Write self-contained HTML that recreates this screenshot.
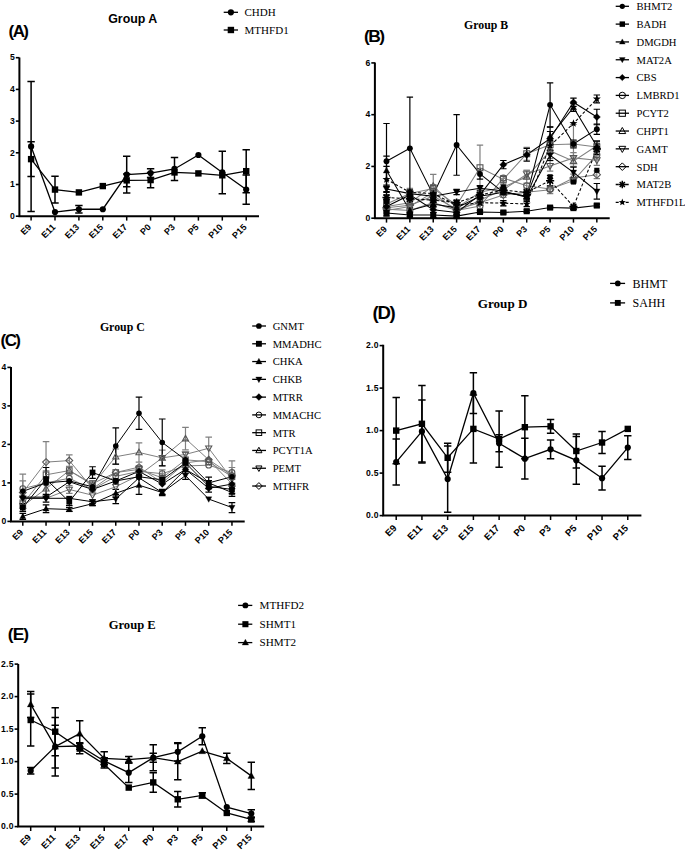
<!DOCTYPE html>
<html><head><meta charset="utf-8"><title>Figure</title>
<style>
html,body{margin:0;padding:0;background:#fff;}
body{width:685px;height:853px;overflow:hidden;font-family:"Liberation Sans", sans-serif;}
svg{display:block;}
</style></head>
<body>
<svg width="685" height="853" viewBox="0 0 685 853">
<rect width="685" height="853" fill="#fff"/>
<path d="M19.4 57.6V216.2H259" stroke="#000" stroke-width="2" fill="none"/>
<path d="M15.8 216.2H19.4" stroke="#000" stroke-width="1.6"/>
<text x="14.8" y="218.9" text-anchor="end" font-family="'Liberation Sans', sans-serif" font-weight="bold" font-size="8.6" letter-spacing="0">0</text>
<path d="M15.8 184.5H19.4" stroke="#000" stroke-width="1.6"/>
<text x="14.8" y="187.2" text-anchor="end" font-family="'Liberation Sans', sans-serif" font-weight="bold" font-size="8.6" letter-spacing="0">1</text>
<path d="M15.8 152.8H19.4" stroke="#000" stroke-width="1.6"/>
<text x="14.8" y="155.5" text-anchor="end" font-family="'Liberation Sans', sans-serif" font-weight="bold" font-size="8.6" letter-spacing="0">2</text>
<path d="M15.8 121.1H19.4" stroke="#000" stroke-width="1.6"/>
<text x="14.8" y="123.8" text-anchor="end" font-family="'Liberation Sans', sans-serif" font-weight="bold" font-size="8.6" letter-spacing="0">3</text>
<path d="M15.8 89.4H19.4" stroke="#000" stroke-width="1.6"/>
<text x="14.8" y="92.1" text-anchor="end" font-family="'Liberation Sans', sans-serif" font-weight="bold" font-size="8.6" letter-spacing="0">4</text>
<path d="M15.8 57.7H19.4" stroke="#000" stroke-width="1.6"/>
<text x="14.8" y="60.4" text-anchor="end" font-family="'Liberation Sans', sans-serif" font-weight="bold" font-size="8.6" letter-spacing="0">5</text>
<path d="M31.1 216.2V220.6" stroke="#000" stroke-width="1.5"/>
<text x="32.1" y="227.8" text-anchor="end" transform="rotate(-45 32.1 227.8)" font-family="'Liberation Sans', sans-serif" font-weight="bold" font-size="9.0">E9</text>
<path d="M55 216.2V220.6" stroke="#000" stroke-width="1.5"/>
<text x="56" y="227.8" text-anchor="end" transform="rotate(-45 56 227.8)" font-family="'Liberation Sans', sans-serif" font-weight="bold" font-size="9.0">E11</text>
<path d="M78.9 216.2V220.6" stroke="#000" stroke-width="1.5"/>
<text x="79.9" y="227.8" text-anchor="end" transform="rotate(-45 79.9 227.8)" font-family="'Liberation Sans', sans-serif" font-weight="bold" font-size="9.0">E13</text>
<path d="M102.8 216.2V220.6" stroke="#000" stroke-width="1.5"/>
<text x="103.8" y="227.8" text-anchor="end" transform="rotate(-45 103.8 227.8)" font-family="'Liberation Sans', sans-serif" font-weight="bold" font-size="9.0">E15</text>
<path d="M126.7 216.2V220.6" stroke="#000" stroke-width="1.5"/>
<text x="127.7" y="227.8" text-anchor="end" transform="rotate(-45 127.7 227.8)" font-family="'Liberation Sans', sans-serif" font-weight="bold" font-size="9.0">E17</text>
<path d="M150.6 216.2V220.6" stroke="#000" stroke-width="1.5"/>
<text x="151.6" y="227.8" text-anchor="end" transform="rotate(-45 151.6 227.8)" font-family="'Liberation Sans', sans-serif" font-weight="bold" font-size="9.0">P0</text>
<path d="M174.5 216.2V220.6" stroke="#000" stroke-width="1.5"/>
<text x="175.5" y="227.8" text-anchor="end" transform="rotate(-45 175.5 227.8)" font-family="'Liberation Sans', sans-serif" font-weight="bold" font-size="9.0">P3</text>
<path d="M198.4 216.2V220.6" stroke="#000" stroke-width="1.5"/>
<text x="199.4" y="227.8" text-anchor="end" transform="rotate(-45 199.4 227.8)" font-family="'Liberation Sans', sans-serif" font-weight="bold" font-size="9.0">P5</text>
<path d="M222.3 216.2V220.6" stroke="#000" stroke-width="1.5"/>
<text x="223.3" y="227.8" text-anchor="end" transform="rotate(-45 223.3 227.8)" font-family="'Liberation Sans', sans-serif" font-weight="bold" font-size="9.0">P10</text>
<path d="M246.2 216.2V220.6" stroke="#000" stroke-width="1.5"/>
<text x="247.2" y="227.8" text-anchor="end" transform="rotate(-45 247.2 227.8)" font-family="'Liberation Sans', sans-serif" font-weight="bold" font-size="9.0">P15</text>
<path d="M31.1 81.47V211.44M27.4 81.47H34.8M27.4 211.44H34.8" stroke="#000" stroke-width="1.5" fill="none"/>
<path d="M78.9 205.42V213.03M75.2 205.42H82.6M75.2 213.03H82.6" stroke="#000" stroke-width="1.5" fill="none"/>
<path d="M126.7 156.29V193.06M123 156.29H130.4M123 193.06H130.4" stroke="#000" stroke-width="1.5" fill="none"/>
<path d="M150.6 168.65V177.53M146.9 168.65H154.3M146.9 177.53H154.3" stroke="#000" stroke-width="1.5" fill="none"/>
<path d="M174.5 157.55V180.38M170.8 157.55H178.2M170.8 180.38H178.2" stroke="#000" stroke-width="1.5" fill="none"/>
<path d="M222.3 151.22V193.69M218.6 151.22H226M218.6 193.69H226" stroke="#000" stroke-width="1.5" fill="none"/>
<path d="M246.2 174.99V204.15M242.5 174.99H249.9M242.5 204.15H249.9" stroke="#000" stroke-width="1.5" fill="none"/>
<path d="M31.1 141.7V176.57M27.4 141.7H34.8M27.4 176.57H34.8" stroke="#000" stroke-width="1.5" fill="none"/>
<path d="M55 176.26V202.89M51.3 176.26H58.7M51.3 202.89H58.7" stroke="#000" stroke-width="1.5" fill="none"/>
<path d="M126.7 174.04V186.72M123 174.04H130.4M123 186.72H130.4" stroke="#000" stroke-width="1.5" fill="none"/>
<path d="M150.6 172.45V187.67M146.9 172.45H154.3M146.9 187.67H154.3" stroke="#000" stroke-width="1.5" fill="none"/>
<path d="M246.2 149.63V192.74M242.5 149.63H249.9M242.5 192.74H249.9" stroke="#000" stroke-width="1.5" fill="none"/>
<polyline points="31.1,146.46 55,212.08 78.9,209.23 102.8,209.23 126.7,174.67 150.6,173.09 174.5,168.97 198.4,155.02 222.3,172.45 246.2,189.57" fill="none" stroke="#000" stroke-width="1.3"/>
<polyline points="31.1,159.14 55,189.57 78.9,192.42 102.8,186.08 126.7,180.38 150.6,180.06 174.5,172.45 198.4,173.4 222.3,175.31 246.2,171.19" fill="none" stroke="#000" stroke-width="1.3"/>
<circle cx="31.1" cy="146.46" r="3.1" fill="#000" stroke="#000" stroke-width="0"/>
<circle cx="55" cy="212.08" r="3.1" fill="#000" stroke="#000" stroke-width="0"/>
<circle cx="78.9" cy="209.23" r="3.1" fill="#000" stroke="#000" stroke-width="0"/>
<circle cx="102.8" cy="209.23" r="3.1" fill="#000" stroke="#000" stroke-width="0"/>
<circle cx="126.7" cy="174.67" r="3.1" fill="#000" stroke="#000" stroke-width="0"/>
<circle cx="150.6" cy="173.09" r="3.1" fill="#000" stroke="#000" stroke-width="0"/>
<circle cx="174.5" cy="168.97" r="3.1" fill="#000" stroke="#000" stroke-width="0"/>
<circle cx="198.4" cy="155.02" r="3.1" fill="#000" stroke="#000" stroke-width="0"/>
<circle cx="222.3" cy="172.45" r="3.1" fill="#000" stroke="#000" stroke-width="0"/>
<circle cx="246.2" cy="189.57" r="3.1" fill="#000" stroke="#000" stroke-width="0"/>
<rect x="27.9" y="155.94" width="6.4" height="6.4" fill="#000" stroke="#000" stroke-width="0"/>
<rect x="51.8" y="186.37" width="6.4" height="6.4" fill="#000" stroke="#000" stroke-width="0"/>
<rect x="75.7" y="189.22" width="6.4" height="6.4" fill="#000" stroke="#000" stroke-width="0"/>
<rect x="99.6" y="182.88" width="6.4" height="6.4" fill="#000" stroke="#000" stroke-width="0"/>
<rect x="123.5" y="177.18" width="6.4" height="6.4" fill="#000" stroke="#000" stroke-width="0"/>
<rect x="147.4" y="176.86" width="6.4" height="6.4" fill="#000" stroke="#000" stroke-width="0"/>
<rect x="171.3" y="169.25" width="6.4" height="6.4" fill="#000" stroke="#000" stroke-width="0"/>
<rect x="195.2" y="170.2" width="6.4" height="6.4" fill="#000" stroke="#000" stroke-width="0"/>
<rect x="219.1" y="172.11" width="6.4" height="6.4" fill="#000" stroke="#000" stroke-width="0"/>
<rect x="243" y="167.99" width="6.4" height="6.4" fill="#000" stroke="#000" stroke-width="0"/>
<text x="108.2" y="23" font-family="'Liberation Sans', sans-serif" font-weight="bold" font-size="12.4">Group A</text>
<text x="8.6" y="37.4" font-family="'Liberation Sans', sans-serif" font-weight="bold" font-size="17" letter-spacing="-1.6">(A)</text>
<path d="M223.7 12.3H238" stroke="#000" stroke-width="1.3"/>
<circle cx="230.9" cy="12.3" r="3.1" fill="#000" stroke="#000" stroke-width="0"/>
<text x="244.5" y="16.2" font-family="'Liberation Serif', serif" font-size="11.05">CHDH</text>
<path d="M223.7 30H238" stroke="#000" stroke-width="1.3"/>
<rect x="227.7" y="26.8" width="6.4" height="6.4" fill="#000" stroke="#000" stroke-width="0"/>
<text x="244.5" y="33.9" font-family="'Liberation Serif', serif" font-size="11.05">MTHFD1</text>
<path d="M374.9 62.6V218.2H609.7" stroke="#000" stroke-width="2" fill="none"/>
<path d="M371.3 218.2H374.9" stroke="#000" stroke-width="1.6"/>
<text x="370.3" y="220.9" text-anchor="end" font-family="'Liberation Sans', sans-serif" font-weight="bold" font-size="8.6" letter-spacing="0">0</text>
<path d="M371.3 166.44H374.9" stroke="#000" stroke-width="1.6"/>
<text x="370.3" y="169.14" text-anchor="end" font-family="'Liberation Sans', sans-serif" font-weight="bold" font-size="8.6" letter-spacing="0">2</text>
<path d="M371.3 114.68H374.9" stroke="#000" stroke-width="1.6"/>
<text x="370.3" y="117.38" text-anchor="end" font-family="'Liberation Sans', sans-serif" font-weight="bold" font-size="8.6" letter-spacing="0">4</text>
<path d="M371.3 62.92H374.9" stroke="#000" stroke-width="1.6"/>
<text x="370.3" y="65.62" text-anchor="end" font-family="'Liberation Sans', sans-serif" font-weight="bold" font-size="8.6" letter-spacing="0">6</text>
<path d="M386.5 218.2V222.6" stroke="#000" stroke-width="1.5"/>
<text x="387.5" y="229.8" text-anchor="end" transform="rotate(-45 387.5 229.8)" font-family="'Liberation Sans', sans-serif" font-weight="bold" font-size="9.0">E9</text>
<path d="M409.87 218.2V222.6" stroke="#000" stroke-width="1.5"/>
<text x="410.87" y="229.8" text-anchor="end" transform="rotate(-45 410.87 229.8)" font-family="'Liberation Sans', sans-serif" font-weight="bold" font-size="9.0">E11</text>
<path d="M433.24 218.2V222.6" stroke="#000" stroke-width="1.5"/>
<text x="434.24" y="229.8" text-anchor="end" transform="rotate(-45 434.24 229.8)" font-family="'Liberation Sans', sans-serif" font-weight="bold" font-size="9.0">E13</text>
<path d="M456.61 218.2V222.6" stroke="#000" stroke-width="1.5"/>
<text x="457.61" y="229.8" text-anchor="end" transform="rotate(-45 457.61 229.8)" font-family="'Liberation Sans', sans-serif" font-weight="bold" font-size="9.0">E15</text>
<path d="M479.98 218.2V222.6" stroke="#000" stroke-width="1.5"/>
<text x="480.98" y="229.8" text-anchor="end" transform="rotate(-45 480.98 229.8)" font-family="'Liberation Sans', sans-serif" font-weight="bold" font-size="9.0">E17</text>
<path d="M503.35 218.2V222.6" stroke="#000" stroke-width="1.5"/>
<text x="504.35" y="229.8" text-anchor="end" transform="rotate(-45 504.35 229.8)" font-family="'Liberation Sans', sans-serif" font-weight="bold" font-size="9.0">P0</text>
<path d="M526.72 218.2V222.6" stroke="#000" stroke-width="1.5"/>
<text x="527.72" y="229.8" text-anchor="end" transform="rotate(-45 527.72 229.8)" font-family="'Liberation Sans', sans-serif" font-weight="bold" font-size="9.0">P3</text>
<path d="M550.09 218.2V222.6" stroke="#000" stroke-width="1.5"/>
<text x="551.09" y="229.8" text-anchor="end" transform="rotate(-45 551.09 229.8)" font-family="'Liberation Sans', sans-serif" font-weight="bold" font-size="9.0">P5</text>
<path d="M573.46 218.2V222.6" stroke="#000" stroke-width="1.5"/>
<text x="574.46" y="229.8" text-anchor="end" transform="rotate(-45 574.46 229.8)" font-family="'Liberation Sans', sans-serif" font-weight="bold" font-size="9.0">P10</text>
<path d="M596.83 218.2V222.6" stroke="#000" stroke-width="1.5"/>
<text x="597.83" y="229.8" text-anchor="end" transform="rotate(-45 597.83 229.8)" font-family="'Liberation Sans', sans-serif" font-weight="bold" font-size="9.0">P15</text>
<path d="M386.5 205.26V213.02M383.3 205.26H389.7M383.3 213.02H389.7" stroke="#808080" stroke-width="1.2" fill="none"/>
<path d="M409.87 207.85V213.02M406.67 207.85H413.07M406.67 213.02H413.07" stroke="#808080" stroke-width="1.2" fill="none"/>
<path d="M433.24 200.08V205.26M430.04 200.08H436.44M430.04 205.26H436.44" stroke="#808080" stroke-width="1.2" fill="none"/>
<path d="M456.61 207.85V213.02M453.41 207.85H459.81M453.41 213.02H459.81" stroke="#808080" stroke-width="1.2" fill="none"/>
<path d="M479.98 203.45V208.62M476.78 203.45H483.18M476.78 208.62H483.18" stroke="#808080" stroke-width="1.2" fill="none"/>
<path d="M503.35 175.5V180.67M500.15 175.5H506.55M500.15 180.67H506.55" stroke="#808080" stroke-width="1.2" fill="none"/>
<path d="M526.72 183.26V188.44M523.52 183.26H529.92M523.52 188.44H529.92" stroke="#808080" stroke-width="1.2" fill="none"/>
<path d="M550.09 186.37V191.54M546.89 186.37H553.29M546.89 191.54H553.29" stroke="#808080" stroke-width="1.2" fill="none"/>
<path d="M573.46 178.09V183.26M570.26 178.09H576.66M570.26 183.26H576.66" stroke="#808080" stroke-width="1.2" fill="none"/>
<path d="M596.83 149.62V159.97M593.63 149.62H600.03M593.63 159.97H600.03" stroke="#808080" stroke-width="1.2" fill="none"/>
<path d="M386.5 198.79V209.14M383.3 198.79H389.7M383.3 209.14H389.7" stroke="#808080" stroke-width="1.2" fill="none"/>
<path d="M409.87 188.44V198.79M406.67 188.44H413.07M406.67 198.79H413.07" stroke="#808080" stroke-width="1.2" fill="none"/>
<path d="M433.24 184.56V192.32M430.04 184.56H436.44M430.04 192.32H436.44" stroke="#808080" stroke-width="1.2" fill="none"/>
<path d="M456.61 201.38V209.14M453.41 201.38H459.81M453.41 209.14H459.81" stroke="#808080" stroke-width="1.2" fill="none"/>
<path d="M479.98 145.22V190.25M476.78 145.22H483.18M476.78 190.25H483.18" stroke="#808080" stroke-width="1.2" fill="none"/>
<path d="M503.35 175.5V183.26M500.15 175.5H506.55M500.15 183.26H506.55" stroke="#808080" stroke-width="1.2" fill="none"/>
<path d="M526.72 147.29V160.23M523.52 147.29H529.92M523.52 160.23H529.92" stroke="#808080" stroke-width="1.2" fill="none"/>
<path d="M550.09 136.94V152.46M546.89 136.94H553.29M546.89 152.46H553.29" stroke="#808080" stroke-width="1.2" fill="none"/>
<path d="M573.46 124.51V163.33M570.26 124.51H576.66M570.26 163.33H576.66" stroke="#808080" stroke-width="1.2" fill="none"/>
<path d="M596.83 141.85V152.21M593.63 141.85H600.03M593.63 152.21H600.03" stroke="#808080" stroke-width="1.2" fill="none"/>
<path d="M386.5 203.97V209.14M383.3 203.97H389.7M383.3 209.14H389.7" stroke="#808080" stroke-width="1.2" fill="none"/>
<path d="M409.87 200.08V205.26M406.67 200.08H413.07M406.67 205.26H413.07" stroke="#808080" stroke-width="1.2" fill="none"/>
<path d="M433.24 174.46V197.75M430.04 174.46H436.44M430.04 197.75H436.44" stroke="#808080" stroke-width="1.2" fill="none"/>
<path d="M456.61 205.26V210.44M453.41 205.26H459.81M453.41 210.44H459.81" stroke="#808080" stroke-width="1.2" fill="none"/>
<path d="M479.98 189.73V194.91M476.78 189.73H483.18M476.78 194.91H483.18" stroke="#808080" stroke-width="1.2" fill="none"/>
<path d="M503.35 184.56V189.73M500.15 184.56H506.55M500.15 189.73H506.55" stroke="#808080" stroke-width="1.2" fill="none"/>
<path d="M526.72 170.32V183.26M523.52 170.32H529.92M523.52 183.26H529.92" stroke="#808080" stroke-width="1.2" fill="none"/>
<path d="M550.09 143.15V158.68M546.89 143.15H553.29M546.89 158.68H553.29" stroke="#808080" stroke-width="1.2" fill="none"/>
<path d="M573.46 156.09V166.44M570.26 156.09H576.66M570.26 166.44H576.66" stroke="#808080" stroke-width="1.2" fill="none"/>
<path d="M596.83 140.56V150.91M593.63 140.56H600.03M593.63 150.91H600.03" stroke="#808080" stroke-width="1.2" fill="none"/>
<path d="M386.5 207.85V213.02M383.3 207.85H389.7M383.3 213.02H389.7" stroke="#808080" stroke-width="1.2" fill="none"/>
<path d="M409.87 203.97V209.14M406.67 203.97H413.07M406.67 209.14H413.07" stroke="#808080" stroke-width="1.2" fill="none"/>
<path d="M433.24 189.73V194.91M430.04 189.73H436.44M430.04 194.91H436.44" stroke="#808080" stroke-width="1.2" fill="none"/>
<path d="M456.61 209.14V214.32M453.41 209.14H459.81M453.41 214.32H459.81" stroke="#808080" stroke-width="1.2" fill="none"/>
<path d="M479.98 197.5V202.67M476.78 197.5H483.18M476.78 202.67H483.18" stroke="#808080" stroke-width="1.2" fill="none"/>
<path d="M503.35 187.14V192.32M500.15 187.14H506.55M500.15 192.32H506.55" stroke="#808080" stroke-width="1.2" fill="none"/>
<path d="M526.72 170.32V178.09M523.52 170.32H529.92M523.52 178.09H529.92" stroke="#808080" stroke-width="1.2" fill="none"/>
<path d="M550.09 160.75V171.1M546.89 160.75H553.29M546.89 171.1H553.29" stroke="#808080" stroke-width="1.2" fill="none"/>
<path d="M573.46 152.72V163.08M570.26 152.72H576.66M570.26 163.08H576.66" stroke="#808080" stroke-width="1.2" fill="none"/>
<path d="M596.83 155.05V165.4M593.63 155.05H600.03M593.63 165.4H600.03" stroke="#808080" stroke-width="1.2" fill="none"/>
<path d="M386.5 205.26V210.44M383.3 205.26H389.7M383.3 210.44H389.7" stroke="#808080" stroke-width="1.2" fill="none"/>
<path d="M409.87 202.67V207.85M406.67 202.67H413.07M406.67 207.85H413.07" stroke="#808080" stroke-width="1.2" fill="none"/>
<path d="M433.24 193.61V198.79M430.04 193.61H436.44M430.04 198.79H436.44" stroke="#808080" stroke-width="1.2" fill="none"/>
<path d="M456.61 206.55V211.73M453.41 206.55H459.81M453.41 211.73H459.81" stroke="#808080" stroke-width="1.2" fill="none"/>
<path d="M479.98 200.08V205.26M476.78 200.08H483.18M476.78 205.26H483.18" stroke="#808080" stroke-width="1.2" fill="none"/>
<path d="M503.35 192.32V197.5M500.15 192.32H506.55M500.15 197.5H506.55" stroke="#808080" stroke-width="1.2" fill="none"/>
<path d="M526.72 189.73V194.91M523.52 189.73H529.92M523.52 194.91H529.92" stroke="#808080" stroke-width="1.2" fill="none"/>
<path d="M550.09 185.85V193.61M546.89 185.85H553.29M546.89 193.61H553.29" stroke="#808080" stroke-width="1.2" fill="none"/>
<path d="M573.46 174.2V181.97M570.26 174.2H576.66M570.26 181.97H576.66" stroke="#808080" stroke-width="1.2" fill="none"/>
<path d="M596.83 170.84V178.6M593.63 170.84H600.03M593.63 178.6H600.03" stroke="#808080" stroke-width="1.2" fill="none"/>
<path d="M386.5 194.91V200.08M383.3 194.91H389.7M383.3 200.08H389.7" stroke="#000" stroke-width="1.2" fill="none"/>
<path d="M409.87 196.2V201.38M406.67 196.2H413.07M406.67 201.38H413.07" stroke="#000" stroke-width="1.2" fill="none"/>
<path d="M433.24 197.5V202.67M430.04 197.5H436.44M430.04 202.67H436.44" stroke="#000" stroke-width="1.2" fill="none"/>
<path d="M456.61 200.08V205.26M453.41 200.08H459.81M453.41 205.26H459.81" stroke="#000" stroke-width="1.2" fill="none"/>
<path d="M479.98 192.32V197.5M476.78 192.32H483.18M476.78 197.5H483.18" stroke="#000" stroke-width="1.2" fill="none"/>
<path d="M503.35 187.66V192.84M500.15 187.66H506.55M500.15 192.84H506.55" stroke="#000" stroke-width="1.2" fill="none"/>
<path d="M526.72 189.73V194.91M523.52 189.73H529.92M523.52 194.91H529.92" stroke="#000" stroke-width="1.2" fill="none"/>
<path d="M550.09 175.5V185.85M546.89 175.5H553.29M546.89 185.85H553.29" stroke="#000" stroke-width="1.2" fill="none"/>
<path d="M596.83 143.92V154.28M593.63 143.92H600.03M593.63 154.28H600.03" stroke="#000" stroke-width="1.2" fill="none"/>
<path d="M386.5 166.44V192.32M383.3 166.44H389.7M383.3 192.32H389.7" stroke="#000" stroke-width="1.2" fill="none"/>
<path d="M409.87 189.73V194.91M406.67 189.73H413.07M406.67 194.91H413.07" stroke="#000" stroke-width="1.2" fill="none"/>
<path d="M433.24 191.03V196.2M430.04 191.03H436.44M430.04 196.2H436.44" stroke="#000" stroke-width="1.2" fill="none"/>
<path d="M456.61 202.67V207.85M453.41 202.67H459.81M453.41 207.85H459.81" stroke="#000" stroke-width="1.2" fill="none"/>
<path d="M479.98 200.08V205.26M476.78 200.08H483.18M476.78 205.26H483.18" stroke="#000" stroke-width="1.2" fill="none"/>
<path d="M503.35 200.6V205.78M500.15 200.6H506.55M500.15 205.78H506.55" stroke="#000" stroke-width="1.2" fill="none"/>
<path d="M526.72 201.38V206.55M523.52 201.38H529.92M523.52 206.55H529.92" stroke="#000" stroke-width="1.2" fill="none"/>
<path d="M550.09 140.56V150.91M546.89 140.56H553.29M546.89 150.91H553.29" stroke="#000" stroke-width="1.2" fill="none"/>
<path d="M596.83 95.01V102.78M593.63 95.01H600.03M593.63 102.78H600.03" stroke="#000" stroke-width="1.2" fill="none"/>
<path d="M386.5 123.48V199.05M383.3 123.48H389.7M383.3 199.05H389.7" stroke="#000" stroke-width="1.2" fill="none"/>
<path d="M409.87 97.08V199.57M406.67 97.08H413.07M406.67 199.57H413.07" stroke="#000" stroke-width="1.2" fill="none"/>
<path d="M433.24 192.32V197.5M430.04 192.32H436.44M430.04 197.5H436.44" stroke="#000" stroke-width="1.2" fill="none"/>
<path d="M456.61 114.68V175.24M453.41 114.68H459.81M453.41 175.24H459.81" stroke="#000" stroke-width="1.2" fill="none"/>
<path d="M479.98 168.77V179.12M476.78 168.77H483.18M476.78 179.12H483.18" stroke="#000" stroke-width="1.2" fill="none"/>
<path d="M503.35 189.73V194.91M500.15 189.73H506.55M500.15 194.91H506.55" stroke="#000" stroke-width="1.2" fill="none"/>
<path d="M526.72 193.61V198.79M523.52 193.61H529.92M523.52 198.79H529.92" stroke="#000" stroke-width="1.2" fill="none"/>
<path d="M550.09 82.85V126.84M546.89 82.85H553.29M546.89 126.84H553.29" stroke="#000" stroke-width="1.2" fill="none"/>
<path d="M573.46 140.04V147.81M570.26 140.04H576.66M570.26 147.81H576.66" stroke="#000" stroke-width="1.2" fill="none"/>
<path d="M596.83 124V134.35M593.63 124H600.03M593.63 134.35H600.03" stroke="#000" stroke-width="1.2" fill="none"/>
<path d="M386.5 209.92V216.13M383.3 209.92H389.7M383.3 216.13H389.7" stroke="#000" stroke-width="1.2" fill="none"/>
<path d="M409.87 213.8V216.39M406.67 213.8H413.07M406.67 216.39H413.07" stroke="#000" stroke-width="1.2" fill="none"/>
<path d="M433.24 212.51V217.68M430.04 212.51H436.44M430.04 217.68H436.44" stroke="#000" stroke-width="1.2" fill="none"/>
<path d="M456.61 214.84V217.42M453.41 214.84H459.81M453.41 217.42H459.81" stroke="#000" stroke-width="1.2" fill="none"/>
<path d="M479.98 210.69V213.28M476.78 210.69H483.18M476.78 213.28H483.18" stroke="#000" stroke-width="1.2" fill="none"/>
<path d="M503.35 211.21V213.8M500.15 211.21H506.55M500.15 213.8H506.55" stroke="#000" stroke-width="1.2" fill="none"/>
<path d="M526.72 209.92V212.51M523.52 209.92H529.92M523.52 212.51H529.92" stroke="#000" stroke-width="1.2" fill="none"/>
<path d="M550.09 206.3V208.88M546.89 206.3H553.29M546.89 208.88H553.29" stroke="#000" stroke-width="1.2" fill="none"/>
<path d="M573.46 206.81V209.4M570.26 206.81H576.66M570.26 209.4H576.66" stroke="#000" stroke-width="1.2" fill="none"/>
<path d="M596.83 204.22V206.81M593.63 204.22H600.03M593.63 206.81H600.03" stroke="#000" stroke-width="1.2" fill="none"/>
<path d="M386.5 156.09V185.07M383.3 156.09H389.7M383.3 185.07H389.7" stroke="#000" stroke-width="1.2" fill="none"/>
<path d="M409.87 207.85V213.02M406.67 207.85H413.07M406.67 213.02H413.07" stroke="#000" stroke-width="1.2" fill="none"/>
<path d="M433.24 201.38V206.55M430.04 201.38H436.44M430.04 206.55H436.44" stroke="#000" stroke-width="1.2" fill="none"/>
<path d="M456.61 205.26V210.44M453.41 205.26H459.81M453.41 210.44H459.81" stroke="#000" stroke-width="1.2" fill="none"/>
<path d="M479.98 193.61V198.79M476.78 193.61H483.18M476.78 198.79H483.18" stroke="#000" stroke-width="1.2" fill="none"/>
<path d="M503.35 189.73V194.91M500.15 189.73H506.55M500.15 194.91H506.55" stroke="#000" stroke-width="1.2" fill="none"/>
<path d="M526.72 193.61V198.79M523.52 193.61H529.92M523.52 198.79H529.92" stroke="#000" stroke-width="1.2" fill="none"/>
<path d="M550.09 131.5V141.85M546.89 131.5H553.29M546.89 141.85H553.29" stroke="#000" stroke-width="1.2" fill="none"/>
<path d="M573.46 103.55V111.32M570.26 103.55H576.66M570.26 111.32H576.66" stroke="#000" stroke-width="1.2" fill="none"/>
<path d="M596.83 141.08V151.43M593.63 141.08H600.03M593.63 151.43H600.03" stroke="#000" stroke-width="1.2" fill="none"/>
<path d="M386.5 186.37V191.54M383.3 186.37H389.7M383.3 191.54H389.7" stroke="#000" stroke-width="1.2" fill="none"/>
<path d="M409.87 191.03V196.2M406.67 191.03H413.07M406.67 196.2H413.07" stroke="#000" stroke-width="1.2" fill="none"/>
<path d="M433.24 193.61V198.79M430.04 193.61H436.44M430.04 198.79H436.44" stroke="#000" stroke-width="1.2" fill="none"/>
<path d="M456.61 189.47V194.65M453.41 189.47H459.81M453.41 194.65H459.81" stroke="#000" stroke-width="1.2" fill="none"/>
<path d="M479.98 185.59V190.77M476.78 185.59H483.18M476.78 190.77H483.18" stroke="#000" stroke-width="1.2" fill="none"/>
<path d="M503.35 188.44V193.61M500.15 188.44H506.55M500.15 193.61H506.55" stroke="#000" stroke-width="1.2" fill="none"/>
<path d="M526.72 194.91V200.08M523.52 194.91H529.92M523.52 200.08H529.92" stroke="#000" stroke-width="1.2" fill="none"/>
<path d="M550.09 150.14V160.49M546.89 150.14H553.29M546.89 160.49H553.29" stroke="#000" stroke-width="1.2" fill="none"/>
<path d="M573.46 167.22V177.57M570.26 167.22H576.66M570.26 177.57H576.66" stroke="#000" stroke-width="1.2" fill="none"/>
<path d="M596.83 183.52V199.05M593.63 183.52H600.03M593.63 199.05H600.03" stroke="#000" stroke-width="1.2" fill="none"/>
<path d="M386.5 202.67V210.44M383.3 202.67H389.7M383.3 210.44H389.7" stroke="#000" stroke-width="1.2" fill="none"/>
<path d="M409.87 192.32V197.5M406.67 192.32H413.07M406.67 197.5H413.07" stroke="#000" stroke-width="1.2" fill="none"/>
<path d="M433.24 207.07V212.25M430.04 207.07H436.44M430.04 212.25H436.44" stroke="#000" stroke-width="1.2" fill="none"/>
<path d="M456.61 209.92V215.09M453.41 209.92H459.81M453.41 215.09H459.81" stroke="#000" stroke-width="1.2" fill="none"/>
<path d="M479.98 192.32V197.5M476.78 192.32H483.18M476.78 197.5H483.18" stroke="#000" stroke-width="1.2" fill="none"/>
<path d="M503.35 160.49V168.77M500.15 160.49H506.55M500.15 168.77H506.55" stroke="#000" stroke-width="1.2" fill="none"/>
<path d="M526.72 148.32V161.26M523.52 148.32H529.92M523.52 161.26H529.92" stroke="#000" stroke-width="1.2" fill="none"/>
<path d="M550.09 127.1V150.39M546.89 127.1H553.29M546.89 150.39H553.29" stroke="#000" stroke-width="1.2" fill="none"/>
<path d="M573.46 98.12V106.4M570.26 98.12H576.66M570.26 106.4H576.66" stroke="#000" stroke-width="1.2" fill="none"/>
<path d="M596.83 109.25V124.77M593.63 109.25H600.03M593.63 124.77H600.03" stroke="#000" stroke-width="1.2" fill="none"/>
<polyline points="386.5,209.14 409.87,210.44 433.24,202.67 456.61,210.44 479.98,206.04 503.35,178.09 526.72,185.85 550.09,188.96 573.46,180.67 596.83,154.79" fill="none" stroke="#808080" stroke-width="1.05"/>
<polyline points="386.5,203.97 409.87,193.61 433.24,188.44 456.61,205.26 479.98,167.73 503.35,179.38 526.72,153.76 550.09,144.7 573.46,143.92 596.83,147.03" fill="none" stroke="#808080" stroke-width="1.05"/>
<polyline points="386.5,206.55 409.87,202.67 433.24,186.11 456.61,207.85 479.98,192.32 503.35,187.14 526.72,176.79 550.09,150.91 573.46,161.26 596.83,145.74" fill="none" stroke="#808080" stroke-width="1.05"/>
<polyline points="386.5,210.44 409.87,206.55 433.24,192.32 456.61,211.73 479.98,200.08 503.35,189.73 526.72,174.2 550.09,165.92 573.46,157.9 596.83,160.23" fill="none" stroke="#808080" stroke-width="1.05"/>
<polyline points="386.5,207.85 409.87,205.26 433.24,196.2 456.61,209.14 479.98,202.67 503.35,194.91 526.72,192.32 550.09,189.73 573.46,178.09 596.83,174.72" fill="none" stroke="#808080" stroke-width="1.05"/>
<polyline points="386.5,197.5 409.87,198.79 433.24,200.08 456.61,202.67 479.98,194.91 503.35,190.25 526.72,192.32 550.09,180.67 573.46,206.55 596.83,149.1" fill="none" stroke="#000" stroke-width="1.05" stroke-dasharray="3,2"/>
<polyline points="386.5,179.38 409.87,192.32 433.24,193.61 456.61,205.26 479.98,202.67 503.35,203.19 526.72,203.97 550.09,145.74 573.46,123.48 596.83,98.89" fill="none" stroke="#000" stroke-width="1.05" stroke-dasharray="3,2"/>
<polyline points="386.5,161.26 409.87,148.32 433.24,194.91 456.61,144.96 479.98,173.95 503.35,192.32 526.72,196.2 550.09,104.85 573.46,143.92 596.83,129.17" fill="none" stroke="#000" stroke-width="1.05"/>
<polyline points="386.5,213.02 409.87,215.09 433.24,215.09 456.61,216.13 479.98,211.99 503.35,212.51 526.72,211.21 550.09,207.59 573.46,208.11 596.83,205.52" fill="none" stroke="#000" stroke-width="1.05"/>
<polyline points="386.5,170.58 409.87,210.44 433.24,203.97 456.61,207.85 479.98,196.2 503.35,192.32 526.72,196.2 550.09,136.68 573.46,107.43 596.83,146.25" fill="none" stroke="#000" stroke-width="1.05"/>
<polyline points="386.5,188.96 409.87,193.61 433.24,196.2 456.61,192.06 479.98,188.18 503.35,191.03 526.72,197.5 550.09,155.31 573.46,172.39 596.83,191.28" fill="none" stroke="#000" stroke-width="1.05"/>
<polyline points="386.5,206.55 409.87,194.91 433.24,209.66 456.61,212.51 479.98,194.91 503.35,164.63 526.72,154.79 550.09,138.75 573.46,102.26 596.83,117.01" fill="none" stroke="#000" stroke-width="1.05"/>
<polyline points="386.5,201.38 409.87,192.32 433.24,200.08 456.61,202.67 479.98,197.5 503.35,187.14 526.72,193.61 550.09,176.79 573.46,181.97 596.83,170.32" fill="none" stroke="#000" stroke-width="0"/>
<circle cx="386.5" cy="209.14" r="3.04" fill="none" stroke="#555" stroke-width="1.1"/>
<circle cx="409.87" cy="210.44" r="3.04" fill="none" stroke="#555" stroke-width="1.1"/>
<circle cx="433.24" cy="202.67" r="3.04" fill="none" stroke="#555" stroke-width="1.1"/>
<circle cx="456.61" cy="210.44" r="3.04" fill="none" stroke="#555" stroke-width="1.1"/>
<circle cx="479.98" cy="206.04" r="3.04" fill="none" stroke="#555" stroke-width="1.1"/>
<circle cx="503.35" cy="178.09" r="3.04" fill="none" stroke="#555" stroke-width="1.1"/>
<circle cx="526.72" cy="185.85" r="3.04" fill="none" stroke="#555" stroke-width="1.1"/>
<circle cx="550.09" cy="188.96" r="3.04" fill="none" stroke="#555" stroke-width="1.1"/>
<circle cx="573.46" cy="180.67" r="3.04" fill="none" stroke="#555" stroke-width="1.1"/>
<circle cx="596.83" cy="154.79" r="3.04" fill="none" stroke="#555" stroke-width="1.1"/>
<rect x="383.56" y="201.02" width="5.89" height="5.89" fill="none" stroke="#555" stroke-width="1.1"/>
<rect x="406.93" y="190.67" width="5.89" height="5.89" fill="none" stroke="#555" stroke-width="1.1"/>
<rect x="430.3" y="185.49" width="5.89" height="5.89" fill="none" stroke="#555" stroke-width="1.1"/>
<rect x="453.67" y="202.31" width="5.89" height="5.89" fill="none" stroke="#555" stroke-width="1.1"/>
<rect x="477.04" y="164.79" width="5.89" height="5.89" fill="none" stroke="#555" stroke-width="1.1"/>
<rect x="500.41" y="176.44" width="5.89" height="5.89" fill="none" stroke="#555" stroke-width="1.1"/>
<rect x="523.77" y="150.81" width="5.89" height="5.89" fill="none" stroke="#555" stroke-width="1.1"/>
<rect x="547.14" y="141.76" width="5.89" height="5.89" fill="none" stroke="#555" stroke-width="1.1"/>
<rect x="570.51" y="140.98" width="5.89" height="5.89" fill="none" stroke="#555" stroke-width="1.1"/>
<rect x="593.88" y="144.08" width="5.89" height="5.89" fill="none" stroke="#555" stroke-width="1.1"/>
<polygon points="386.5,203.13 389.75,208.95 383.25,208.95" fill="none" stroke="#555" stroke-width="1.1"/>
<polygon points="409.87,199.25 413.12,205.07 406.62,205.07" fill="none" stroke="#555" stroke-width="1.1"/>
<polygon points="433.24,182.69 436.49,188.5 429.99,188.5" fill="none" stroke="#555" stroke-width="1.1"/>
<polygon points="456.61,204.43 459.86,210.24 453.36,210.24" fill="none" stroke="#555" stroke-width="1.1"/>
<polygon points="479.98,188.9 483.23,194.71 476.73,194.71" fill="none" stroke="#555" stroke-width="1.1"/>
<polygon points="503.35,183.72 506.6,189.54 500.1,189.54" fill="none" stroke="#555" stroke-width="1.1"/>
<polygon points="526.72,173.37 529.97,179.19 523.47,179.19" fill="none" stroke="#555" stroke-width="1.1"/>
<polygon points="550.09,147.49 553.34,153.31 546.84,153.31" fill="none" stroke="#555" stroke-width="1.1"/>
<polygon points="573.46,157.84 576.71,163.66 570.21,163.66" fill="none" stroke="#555" stroke-width="1.1"/>
<polygon points="596.83,142.32 600.08,148.13 593.58,148.13" fill="none" stroke="#555" stroke-width="1.1"/>
<polygon points="386.5,213.86 389.75,208.04 383.25,208.04" fill="none" stroke="#555" stroke-width="1.1"/>
<polygon points="409.87,209.97 413.12,204.16 406.62,204.16" fill="none" stroke="#555" stroke-width="1.1"/>
<polygon points="433.24,195.74 436.49,189.93 429.99,189.93" fill="none" stroke="#555" stroke-width="1.1"/>
<polygon points="456.61,215.15 459.86,209.34 453.36,209.34" fill="none" stroke="#555" stroke-width="1.1"/>
<polygon points="479.98,203.5 483.23,197.69 476.73,197.69" fill="none" stroke="#555" stroke-width="1.1"/>
<polygon points="503.35,193.15 506.6,187.34 500.1,187.34" fill="none" stroke="#555" stroke-width="1.1"/>
<polygon points="526.72,177.62 529.97,171.81 523.47,171.81" fill="none" stroke="#555" stroke-width="1.1"/>
<polygon points="550.09,169.34 553.34,163.53 546.84,163.53" fill="none" stroke="#555" stroke-width="1.1"/>
<polygon points="573.46,161.32 576.71,155.51 570.21,155.51" fill="none" stroke="#555" stroke-width="1.1"/>
<polygon points="596.83,163.65 600.08,157.83 593.58,157.83" fill="none" stroke="#555" stroke-width="1.1"/>
<polygon points="386.5,204.24 390.11,207.85 386.5,211.46 382.89,207.85" fill="none" stroke="#555" stroke-width="1.1"/>
<polygon points="409.87,201.65 413.48,205.26 409.87,208.87 406.26,205.26" fill="none" stroke="#555" stroke-width="1.1"/>
<polygon points="433.24,192.59 436.85,196.2 433.24,199.81 429.63,196.2" fill="none" stroke="#555" stroke-width="1.1"/>
<polygon points="456.61,205.53 460.22,209.14 456.61,212.75 453,209.14" fill="none" stroke="#555" stroke-width="1.1"/>
<polygon points="479.98,199.06 483.59,202.67 479.98,206.28 476.37,202.67" fill="none" stroke="#555" stroke-width="1.1"/>
<polygon points="503.35,191.3 506.96,194.91 503.35,198.52 499.74,194.91" fill="none" stroke="#555" stroke-width="1.1"/>
<polygon points="526.72,188.71 530.33,192.32 526.72,195.93 523.11,192.32" fill="none" stroke="#555" stroke-width="1.1"/>
<polygon points="550.09,186.12 553.7,189.73 550.09,193.34 546.48,189.73" fill="none" stroke="#555" stroke-width="1.1"/>
<polygon points="573.46,174.48 577.07,178.09 573.46,181.7 569.85,178.09" fill="none" stroke="#555" stroke-width="1.1"/>
<polygon points="596.83,171.11 600.44,174.72 596.83,178.33 593.22,174.72" fill="none" stroke="#555" stroke-width="1.1"/>
<path d="M382.42 197.5L390.58 197.5M383.61 194.61L389.39 200.38M386.5 193.41L386.5 201.58M389.39 194.61L383.61 200.38" stroke="#000" stroke-width="1.5" fill="none"/>
<path d="M405.79 198.79L413.95 198.79M406.98 195.9L412.76 201.68M409.87 194.7L409.87 202.88M412.76 195.9L406.98 201.68" stroke="#000" stroke-width="1.5" fill="none"/>
<path d="M429.16 200.08L437.32 200.08M430.35 197.2L436.13 202.97M433.24 196L433.24 204.17M436.13 197.2L430.35 202.97" stroke="#000" stroke-width="1.5" fill="none"/>
<path d="M452.53 202.67L460.69 202.67M453.72 199.78L459.5 205.56M456.61 198.59L456.61 206.76M459.5 199.78L453.72 205.56" stroke="#000" stroke-width="1.5" fill="none"/>
<path d="M475.9 194.91L484.06 194.91M477.09 192.02L482.87 197.8M479.98 190.82L479.98 198.99M482.87 192.02L477.09 197.8" stroke="#000" stroke-width="1.5" fill="none"/>
<path d="M499.27 190.25L507.44 190.25M500.46 187.36L506.24 193.14M503.35 186.16L503.35 194.33M506.24 187.36L500.46 193.14" stroke="#000" stroke-width="1.5" fill="none"/>
<path d="M522.63 192.32L530.81 192.32M523.83 189.43L529.61 195.21M526.72 188.23L526.72 196.41M529.61 189.43L523.83 195.21" stroke="#000" stroke-width="1.5" fill="none"/>
<path d="M546 180.67L554.18 180.67M547.2 177.79L552.98 183.56M550.09 176.59L550.09 184.76M552.98 177.79L547.2 183.56" stroke="#000" stroke-width="1.5" fill="none"/>
<path d="M569.38 206.55L577.55 206.55M570.57 203.67L576.35 209.44M573.46 202.47L573.46 210.64M576.35 203.67L570.57 209.44" stroke="#000" stroke-width="1.5" fill="none"/>
<path d="M592.75 149.1L600.92 149.1M593.94 146.21L599.72 151.99M596.83 145.02L596.83 153.19M599.72 146.21L593.94 151.99" stroke="#000" stroke-width="1.5" fill="none"/>
<polygon points="386.5,175.2 387.53,177.96 390.48,178.09 388.17,179.92 388.96,182.76 386.5,181.14 384.04,182.76 384.83,179.92 382.52,178.09 385.47,177.96" fill="#000"/>
<polygon points="409.87,188.14 410.9,190.9 413.85,191.03 411.54,192.86 412.33,195.7 409.87,194.08 407.41,195.7 408.2,192.86 405.89,191.03 408.84,190.9" fill="#000"/>
<polygon points="433.24,189.43 434.27,192.19 437.22,192.32 434.91,194.16 435.7,197 433.24,195.37 430.78,197 431.57,194.16 429.26,192.32 432.21,192.19" fill="#000"/>
<polygon points="456.61,201.08 457.64,203.84 460.59,203.97 458.28,205.8 459.07,208.64 456.61,207.02 454.15,208.64 454.94,205.8 452.63,203.97 455.58,203.84" fill="#000"/>
<polygon points="479.98,198.49 481.01,201.25 483.96,201.38 481.65,203.21 482.44,206.05 479.98,204.43 477.52,206.05 478.31,203.21 476,201.38 478.95,201.25" fill="#000"/>
<polygon points="503.35,199.01 504.38,201.77 507.33,201.9 505.02,203.73 505.81,206.57 503.35,204.95 500.89,206.57 501.68,203.73 499.37,201.9 502.32,201.77" fill="#000"/>
<polygon points="526.72,199.79 527.75,202.55 530.7,202.67 528.39,204.51 529.18,207.35 526.72,205.72 524.26,207.35 525.05,204.51 522.74,202.67 525.69,202.55" fill="#000"/>
<polygon points="550.09,141.56 551.12,144.32 554.07,144.44 551.76,146.28 552.55,149.12 550.09,147.49 547.63,149.12 548.42,146.28 546.11,144.44 549.06,144.32" fill="#000"/>
<polygon points="573.46,119.3 574.49,122.06 577.44,122.19 575.13,124.02 575.92,126.86 573.46,125.23 571,126.86 571.79,124.02 569.48,122.19 572.43,122.06" fill="#000"/>
<polygon points="596.83,94.71 597.86,97.47 600.81,97.6 598.5,99.44 599.29,102.27 596.83,100.65 594.37,102.27 595.16,99.44 592.85,97.6 595.8,97.47" fill="#000"/>
<circle cx="386.5" cy="161.26" r="2.94" fill="#000" stroke="#000" stroke-width="0"/>
<circle cx="409.87" cy="148.32" r="2.94" fill="#000" stroke="#000" stroke-width="0"/>
<circle cx="433.24" cy="194.91" r="2.94" fill="#000" stroke="#000" stroke-width="0"/>
<circle cx="456.61" cy="144.96" r="2.94" fill="#000" stroke="#000" stroke-width="0"/>
<circle cx="479.98" cy="173.95" r="2.94" fill="#000" stroke="#000" stroke-width="0"/>
<circle cx="503.35" cy="192.32" r="2.94" fill="#000" stroke="#000" stroke-width="0"/>
<circle cx="526.72" cy="196.2" r="2.94" fill="#000" stroke="#000" stroke-width="0"/>
<circle cx="550.09" cy="104.85" r="2.94" fill="#000" stroke="#000" stroke-width="0"/>
<circle cx="573.46" cy="143.92" r="2.94" fill="#000" stroke="#000" stroke-width="0"/>
<circle cx="596.83" cy="129.17" r="2.94" fill="#000" stroke="#000" stroke-width="0"/>
<rect x="383.46" y="209.98" width="6.08" height="6.08" fill="#000" stroke="#000" stroke-width="0"/>
<rect x="406.83" y="212.05" width="6.08" height="6.08" fill="#000" stroke="#000" stroke-width="0"/>
<rect x="430.2" y="212.05" width="6.08" height="6.08" fill="#000" stroke="#000" stroke-width="0"/>
<rect x="453.57" y="213.09" width="6.08" height="6.08" fill="#000" stroke="#000" stroke-width="0"/>
<rect x="476.94" y="208.95" width="6.08" height="6.08" fill="#000" stroke="#000" stroke-width="0"/>
<rect x="500.31" y="209.47" width="6.08" height="6.08" fill="#000" stroke="#000" stroke-width="0"/>
<rect x="523.68" y="208.17" width="6.08" height="6.08" fill="#000" stroke="#000" stroke-width="0"/>
<rect x="547.05" y="204.55" width="6.08" height="6.08" fill="#000" stroke="#000" stroke-width="0"/>
<rect x="570.42" y="205.07" width="6.08" height="6.08" fill="#000" stroke="#000" stroke-width="0"/>
<rect x="593.79" y="202.48" width="6.08" height="6.08" fill="#000" stroke="#000" stroke-width="0"/>
<polygon points="386.5,167.16 389.75,172.97 383.25,172.97" fill="#000" stroke="#000" stroke-width="0.3"/>
<polygon points="409.87,207.02 413.12,212.83 406.62,212.83" fill="#000" stroke="#000" stroke-width="0.3"/>
<polygon points="433.24,200.55 436.49,206.36 429.99,206.36" fill="#000" stroke="#000" stroke-width="0.3"/>
<polygon points="456.61,204.43 459.86,210.24 453.36,210.24" fill="#000" stroke="#000" stroke-width="0.3"/>
<polygon points="479.98,192.78 483.23,198.6 476.73,198.6" fill="#000" stroke="#000" stroke-width="0.3"/>
<polygon points="503.35,188.9 506.6,194.71 500.1,194.71" fill="#000" stroke="#000" stroke-width="0.3"/>
<polygon points="526.72,192.78 529.97,198.6 523.47,198.6" fill="#000" stroke="#000" stroke-width="0.3"/>
<polygon points="550.09,133.26 553.34,139.07 546.84,139.07" fill="#000" stroke="#000" stroke-width="0.3"/>
<polygon points="573.46,104.01 576.71,109.83 570.21,109.83" fill="#000" stroke="#000" stroke-width="0.3"/>
<polygon points="596.83,142.83 600.08,148.65 593.58,148.65" fill="#000" stroke="#000" stroke-width="0.3"/>
<polygon points="386.5,192.38 389.75,186.56 383.25,186.56" fill="#000" stroke="#000" stroke-width="0.3"/>
<polygon points="409.87,197.03 413.12,191.22 406.62,191.22" fill="#000" stroke="#000" stroke-width="0.3"/>
<polygon points="433.24,199.62 436.49,193.81 429.99,193.81" fill="#000" stroke="#000" stroke-width="0.3"/>
<polygon points="456.61,195.48 459.86,189.67 453.36,189.67" fill="#000" stroke="#000" stroke-width="0.3"/>
<polygon points="479.98,191.6 483.23,185.79 476.73,185.79" fill="#000" stroke="#000" stroke-width="0.3"/>
<polygon points="503.35,194.45 506.6,188.63 500.1,188.63" fill="#000" stroke="#000" stroke-width="0.3"/>
<polygon points="526.72,200.92 529.97,195.1 523.47,195.1" fill="#000" stroke="#000" stroke-width="0.3"/>
<polygon points="550.09,158.73 553.34,152.92 546.84,152.92" fill="#000" stroke="#000" stroke-width="0.3"/>
<polygon points="573.46,175.81 576.71,170 570.21,170" fill="#000" stroke="#000" stroke-width="0.3"/>
<polygon points="596.83,194.7 600.08,188.89 593.58,188.89" fill="#000" stroke="#000" stroke-width="0.3"/>
<polygon points="386.5,202.94 390.11,206.55 386.5,210.16 382.89,206.55" fill="#000" stroke="#000" stroke-width="0.3"/>
<polygon points="409.87,191.3 413.48,194.91 409.87,198.52 406.26,194.91" fill="#000" stroke="#000" stroke-width="0.3"/>
<polygon points="433.24,206.05 436.85,209.66 433.24,213.27 429.63,209.66" fill="#000" stroke="#000" stroke-width="0.3"/>
<polygon points="456.61,208.9 460.22,212.51 456.61,216.12 453,212.51" fill="#000" stroke="#000" stroke-width="0.3"/>
<polygon points="479.98,191.3 483.59,194.91 479.98,198.52 476.37,194.91" fill="#000" stroke="#000" stroke-width="0.3"/>
<polygon points="503.35,161.02 506.96,164.63 503.35,168.24 499.74,164.63" fill="#000" stroke="#000" stroke-width="0.3"/>
<polygon points="526.72,151.18 530.33,154.79 526.72,158.4 523.11,154.79" fill="#000" stroke="#000" stroke-width="0.3"/>
<polygon points="550.09,135.14 553.7,138.75 550.09,142.36 546.48,138.75" fill="#000" stroke="#000" stroke-width="0.3"/>
<polygon points="573.46,98.65 577.07,102.26 573.46,105.87 569.85,102.26" fill="#000" stroke="#000" stroke-width="0.3"/>
<polygon points="596.83,113.4 600.44,117.01 596.83,120.62 593.22,117.01" fill="#000" stroke="#000" stroke-width="0.3"/>
<rect x="383.94" y="198.82" width="5.12" height="5.12" fill="#000" stroke="#000" stroke-width="0"/>
<rect x="407.31" y="189.76" width="5.12" height="5.12" fill="#000" stroke="#000" stroke-width="0"/>
<rect x="430.68" y="197.52" width="5.12" height="5.12" fill="#000" stroke="#000" stroke-width="0"/>
<rect x="454.05" y="200.11" width="5.12" height="5.12" fill="#000" stroke="#000" stroke-width="0"/>
<rect x="477.42" y="194.94" width="5.12" height="5.12" fill="#000" stroke="#000" stroke-width="0"/>
<rect x="500.79" y="184.58" width="5.12" height="5.12" fill="#000" stroke="#000" stroke-width="0"/>
<rect x="524.16" y="191.05" width="5.12" height="5.12" fill="#000" stroke="#000" stroke-width="0"/>
<rect x="547.53" y="174.23" width="5.12" height="5.12" fill="#000" stroke="#000" stroke-width="0"/>
<rect x="570.9" y="179.41" width="5.12" height="5.12" fill="#000" stroke="#000" stroke-width="0"/>
<rect x="594.27" y="167.76" width="5.12" height="5.12" fill="#000" stroke="#000" stroke-width="0"/>
<text x="464.1" y="28.6" font-family="'Liberation Serif', serif" font-weight="bold" font-size="11.8">Group B</text>
<text x="364" y="41.6" font-family="'Liberation Sans', sans-serif" font-weight="bold" font-size="17.4" letter-spacing="-1.6">(B)</text>
<path d="M615.7 6.3H629" stroke="#000" stroke-width="1.3"/>
<circle cx="622.3" cy="6.3" r="2.63" fill="#000" stroke="#000" stroke-width="0"/>
<text x="636.5" y="10.2" font-family="'Liberation Serif', serif" font-size="10.6">BHMT2</text>
<path d="M615.7 24.12H629" stroke="#000" stroke-width="1.3"/>
<rect x="619.58" y="21.4" width="5.44" height="5.44" fill="#000" stroke="#000" stroke-width="0"/>
<text x="636.5" y="28.02" font-family="'Liberation Serif', serif" font-size="10.6">BADH</text>
<path d="M615.7 41.94H629" stroke="#000" stroke-width="1.3"/>
<polygon points="622.3,38.88 625.21,44.08 619.39,44.08" fill="#000" stroke="#000" stroke-width="0.3"/>
<text x="636.5" y="45.84" font-family="'Liberation Serif', serif" font-size="10.6">DMGDH</text>
<path d="M615.7 59.76H629" stroke="#000" stroke-width="1.3"/>
<polygon points="622.3,62.82 625.21,57.62 619.39,57.62" fill="#000" stroke="#000" stroke-width="0.3"/>
<text x="636.5" y="63.66" font-family="'Liberation Serif', serif" font-size="10.6">MAT2A</text>
<path d="M615.7 77.58H629" stroke="#000" stroke-width="1.3"/>
<polygon points="622.3,74.35 625.53,77.58 622.3,80.81 619.07,77.58" fill="#000" stroke="#000" stroke-width="0.3"/>
<text x="636.5" y="81.48" font-family="'Liberation Serif', serif" font-size="10.6">CBS</text>
<path d="M615.7 95.4H629" stroke="#000" stroke-width="1.3"/>
<circle cx="622.3" cy="95.4" r="3.2" fill="none" stroke="#000" stroke-width="1"/>
<text x="636.5" y="99.3" font-family="'Liberation Serif', serif" font-size="10.6">LMBRD1</text>
<path d="M615.7 113.22H629" stroke="#000" stroke-width="1.3"/>
<rect x="619.2" y="110.12" width="6.2" height="6.2" fill="none" stroke="#000" stroke-width="1"/>
<text x="636.5" y="117.12" font-family="'Liberation Serif', serif" font-size="10.6">PCYT2</text>
<path d="M615.7 131.04H629" stroke="#000" stroke-width="1.3"/>
<polygon points="622.3,127.44 625.72,133.56 618.88,133.56" fill="none" stroke="#000" stroke-width="1"/>
<text x="636.5" y="134.94" font-family="'Liberation Serif', serif" font-size="10.6">CHPT1</text>
<path d="M615.7 148.86H629" stroke="#000" stroke-width="1.3"/>
<polygon points="622.3,152.46 625.72,146.34 618.88,146.34" fill="none" stroke="#000" stroke-width="1"/>
<text x="636.5" y="152.76" font-family="'Liberation Serif', serif" font-size="10.6">GAMT</text>
<path d="M615.7 166.68H629" stroke="#000" stroke-width="1.3"/>
<polygon points="622.3,162.88 626.1,166.68 622.3,170.48 618.5,166.68" fill="none" stroke="#000" stroke-width="1"/>
<text x="636.5" y="170.58" font-family="'Liberation Serif', serif" font-size="10.6">SDH</text>
<path d="M615.7 184.5H629" stroke="#000" stroke-width="1.3" stroke-dasharray="3,2"/>
<path d="M618.64 184.5L625.95 184.5M619.72 181.92L624.88 187.08M622.3 180.84L622.3 188.16M624.88 181.92L619.72 187.08" stroke="#000" stroke-width="1.5" fill="none"/>
<text x="636.5" y="188.4" font-family="'Liberation Serif', serif" font-size="10.6">MAT2B</text>
<path d="M615.7 202.32H629" stroke="#000" stroke-width="1.3" stroke-dasharray="3,2"/>
<polygon points="622.3,198.58 623.22,201.05 625.86,201.16 623.79,202.81 624.5,205.35 622.3,203.89 620.1,205.35 620.81,202.81 618.74,201.16 621.38,201.05" fill="#000"/>
<text x="636.5" y="206.22" font-family="'Liberation Serif', serif" font-size="10.6">MTHFD1L</text>
<path d="M11 367V521.4H244.7" stroke="#000" stroke-width="2" fill="none"/>
<path d="M7.4 521.4H11" stroke="#000" stroke-width="1.6"/>
<text x="6.4" y="524.1" text-anchor="end" font-family="'Liberation Sans', sans-serif" font-weight="bold" font-size="8.6" letter-spacing="0">0</text>
<path d="M7.4 482.9H11" stroke="#000" stroke-width="1.6"/>
<text x="6.4" y="485.6" text-anchor="end" font-family="'Liberation Sans', sans-serif" font-weight="bold" font-size="8.6" letter-spacing="0">1</text>
<path d="M7.4 444.4H11" stroke="#000" stroke-width="1.6"/>
<text x="6.4" y="447.1" text-anchor="end" font-family="'Liberation Sans', sans-serif" font-weight="bold" font-size="8.6" letter-spacing="0">2</text>
<path d="M7.4 405.9H11" stroke="#000" stroke-width="1.6"/>
<text x="6.4" y="408.6" text-anchor="end" font-family="'Liberation Sans', sans-serif" font-weight="bold" font-size="8.6" letter-spacing="0">3</text>
<path d="M7.4 367.4H11" stroke="#000" stroke-width="1.6"/>
<text x="6.4" y="370.1" text-anchor="end" font-family="'Liberation Sans', sans-serif" font-weight="bold" font-size="8.6" letter-spacing="0">4</text>
<path d="M22.8 521.4V525.8" stroke="#000" stroke-width="1.5"/>
<text x="23.8" y="533" text-anchor="end" transform="rotate(-45 23.8 533)" font-family="'Liberation Sans', sans-serif" font-weight="bold" font-size="9.0">E9</text>
<path d="M46.04 521.4V525.8" stroke="#000" stroke-width="1.5"/>
<text x="47.04" y="533" text-anchor="end" transform="rotate(-45 47.04 533)" font-family="'Liberation Sans', sans-serif" font-weight="bold" font-size="9.0">E11</text>
<path d="M69.28 521.4V525.8" stroke="#000" stroke-width="1.5"/>
<text x="70.28" y="533" text-anchor="end" transform="rotate(-45 70.28 533)" font-family="'Liberation Sans', sans-serif" font-weight="bold" font-size="9.0">E13</text>
<path d="M92.52 521.4V525.8" stroke="#000" stroke-width="1.5"/>
<text x="93.52" y="533" text-anchor="end" transform="rotate(-45 93.52 533)" font-family="'Liberation Sans', sans-serif" font-weight="bold" font-size="9.0">E15</text>
<path d="M115.76 521.4V525.8" stroke="#000" stroke-width="1.5"/>
<text x="116.76" y="533" text-anchor="end" transform="rotate(-45 116.76 533)" font-family="'Liberation Sans', sans-serif" font-weight="bold" font-size="9.0">E17</text>
<path d="M139 521.4V525.8" stroke="#000" stroke-width="1.5"/>
<text x="140" y="533" text-anchor="end" transform="rotate(-45 140 533)" font-family="'Liberation Sans', sans-serif" font-weight="bold" font-size="9.0">P0</text>
<path d="M162.24 521.4V525.8" stroke="#000" stroke-width="1.5"/>
<text x="163.24" y="533" text-anchor="end" transform="rotate(-45 163.24 533)" font-family="'Liberation Sans', sans-serif" font-weight="bold" font-size="9.0">P3</text>
<path d="M185.48 521.4V525.8" stroke="#000" stroke-width="1.5"/>
<text x="186.48" y="533" text-anchor="end" transform="rotate(-45 186.48 533)" font-family="'Liberation Sans', sans-serif" font-weight="bold" font-size="9.0">P5</text>
<path d="M208.72 521.4V525.8" stroke="#000" stroke-width="1.5"/>
<text x="209.72" y="533" text-anchor="end" transform="rotate(-45 209.72 533)" font-family="'Liberation Sans', sans-serif" font-weight="bold" font-size="9.0">P10</text>
<path d="M231.96 521.4V525.8" stroke="#000" stroke-width="1.5"/>
<text x="232.96" y="533" text-anchor="end" transform="rotate(-45 232.96 533)" font-family="'Liberation Sans', sans-serif" font-weight="bold" font-size="9.0">P15</text>
<path d="M22.8 474.04V503.3M19.5 474.04H26.1M19.5 503.3H26.1" stroke="#808080" stroke-width="1.2" fill="none"/>
<path d="M162.24 469.81V477.51M158.94 469.81H165.54M158.94 477.51H165.54" stroke="#808080" stroke-width="1.2" fill="none"/>
<path d="M231.96 460.95V484.06M228.66 460.95H235.26M228.66 484.06H235.26" stroke="#808080" stroke-width="1.2" fill="none"/>
<path d="M22.8 499.84V507.54M19.5 499.84H26.1M19.5 507.54H26.1" stroke="#808080" stroke-width="1.2" fill="none"/>
<path d="M46.04 470.96V478.67M42.74 470.96H49.34M42.74 478.67H49.34" stroke="#808080" stroke-width="1.2" fill="none"/>
<path d="M69.28 466.73V474.43M65.98 466.73H72.58M65.98 474.43H72.58" stroke="#808080" stroke-width="1.2" fill="none"/>
<path d="M139 465.57V473.27M135.7 465.57H142.3M135.7 473.27H142.3" stroke="#808080" stroke-width="1.2" fill="none"/>
<path d="M185.48 452.1V467.5M182.18 452.1H188.78M182.18 467.5H188.78" stroke="#808080" stroke-width="1.2" fill="none"/>
<path d="M92.52 480.97V488.68M89.22 480.97H95.82M89.22 488.68H95.82" stroke="#808080" stroke-width="1.2" fill="none"/>
<path d="M115.76 449.02V464.42M112.46 449.02H119.06M112.46 464.42H119.06" stroke="#808080" stroke-width="1.2" fill="none"/>
<path d="M139 442.86V462.11M135.7 442.86H142.3M135.7 462.11H142.3" stroke="#808080" stroke-width="1.2" fill="none"/>
<path d="M185.48 427.46V449.79M182.18 427.46H188.78M182.18 449.79H188.78" stroke="#808080" stroke-width="1.2" fill="none"/>
<path d="M69.28 485.59V493.3M65.98 485.59H72.58M65.98 493.3H72.58" stroke="#808080" stroke-width="1.2" fill="none"/>
<path d="M162.24 450.18V465.57M158.94 450.18H165.54M158.94 465.57H165.54" stroke="#808080" stroke-width="1.2" fill="none"/>
<path d="M208.72 437.08V459.42M205.42 437.08H212.02M205.42 459.42H212.02" stroke="#808080" stroke-width="1.2" fill="none"/>
<path d="M22.8 480.97V504.07M19.5 480.97H26.1M19.5 504.07H26.1" stroke="#808080" stroke-width="1.2" fill="none"/>
<path d="M46.04 441.7V482.51M42.74 441.7H49.34M42.74 482.51H49.34" stroke="#808080" stroke-width="1.2" fill="none"/>
<path d="M69.28 454.8V466.34M65.98 454.8H72.58M65.98 466.34H72.58" stroke="#808080" stroke-width="1.2" fill="none"/>
<path d="M231.96 467.5V482.9M228.66 467.5H235.26M228.66 482.9H235.26" stroke="#808080" stroke-width="1.2" fill="none"/>
<path d="M46.04 467.5V498.3M42.74 467.5H49.34M42.74 498.3H49.34" stroke="#000" stroke-width="1.2" fill="none"/>
<path d="M115.76 427.85V464.03M112.46 427.85H119.06M112.46 464.03H119.06" stroke="#000" stroke-width="1.2" fill="none"/>
<path d="M139 397.04V429.38M135.7 397.04H142.3M135.7 429.38H142.3" stroke="#000" stroke-width="1.2" fill="none"/>
<path d="M162.24 418.99V465.96M158.94 418.99H165.54M158.94 465.96H165.54" stroke="#000" stroke-width="1.2" fill="none"/>
<path d="M208.72 477.12V488.67M205.42 477.12H212.02M205.42 488.67H212.02" stroke="#000" stroke-width="1.2" fill="none"/>
<path d="M22.8 503.69V511.39M19.5 503.69H26.1M19.5 511.39H26.1" stroke="#000" stroke-width="1.2" fill="none"/>
<path d="M69.28 497.91V505.62M65.98 497.91H72.58M65.98 505.62H72.58" stroke="#000" stroke-width="1.2" fill="none"/>
<path d="M92.52 466.73V478.28M89.22 466.73H95.82M89.22 478.28H95.82" stroke="#000" stroke-width="1.2" fill="none"/>
<path d="M162.24 475.97V483.67M158.94 475.97H165.54M158.94 483.67H165.54" stroke="#000" stroke-width="1.2" fill="none"/>
<path d="M208.72 480.59V492.14M205.42 480.59H212.02M205.42 492.14H212.02" stroke="#000" stroke-width="1.2" fill="none"/>
<path d="M231.96 485.59V493.3M228.66 485.59H235.26M228.66 493.3H235.26" stroke="#000" stroke-width="1.2" fill="none"/>
<path d="M22.8 513.31V519.48M19.5 513.31H26.1M19.5 519.48H26.1" stroke="#000" stroke-width="1.2" fill="none"/>
<path d="M46.04 504.84V512.54M42.74 504.84H49.34M42.74 512.54H49.34" stroke="#000" stroke-width="1.2" fill="none"/>
<path d="M69.28 507.54V511.39M65.98 507.54H72.58M65.98 511.39H72.58" stroke="#000" stroke-width="1.2" fill="none"/>
<path d="M92.52 501.76V505.62M89.22 501.76H95.82M89.22 505.62H95.82" stroke="#000" stroke-width="1.2" fill="none"/>
<path d="M115.76 489.44V497.14M112.46 489.44H119.06M112.46 497.14H119.06" stroke="#000" stroke-width="1.2" fill="none"/>
<path d="M139 475.97V494.45M135.7 475.97H142.3M135.7 494.45H142.3" stroke="#000" stroke-width="1.2" fill="none"/>
<path d="M162.24 490.6V494.45M158.94 490.6H165.54M158.94 494.45H165.54" stroke="#000" stroke-width="1.2" fill="none"/>
<path d="M185.48 465.57V473.27M182.18 465.57H188.78M182.18 473.27H188.78" stroke="#000" stroke-width="1.2" fill="none"/>
<path d="M231.96 488.67V496.38M228.66 488.67H235.26M228.66 496.38H235.26" stroke="#000" stroke-width="1.2" fill="none"/>
<path d="M46.04 494.45V502.15M42.74 494.45H49.34M42.74 502.15H49.34" stroke="#000" stroke-width="1.2" fill="none"/>
<path d="M92.52 499.84V503.69M89.22 499.84H95.82M89.22 503.69H95.82" stroke="#000" stroke-width="1.2" fill="none"/>
<path d="M115.76 494.45V503.69M112.46 494.45H119.06M112.46 503.69H119.06" stroke="#000" stroke-width="1.2" fill="none"/>
<path d="M162.24 489.44V495.6M158.94 489.44H165.54M158.94 495.6H165.54" stroke="#000" stroke-width="1.2" fill="none"/>
<path d="M185.48 471.73V479.44M182.18 471.73H188.78M182.18 479.44H188.78" stroke="#000" stroke-width="1.2" fill="none"/>
<path d="M231.96 502.53V512.54M228.66 502.53H235.26M228.66 512.54H235.26" stroke="#000" stroke-width="1.2" fill="none"/>
<polyline points="22.8,488.67 46.04,482.9 69.28,478.28 92.52,489.44 115.76,476.35 139,471.35 162.24,473.66 185.48,465.96 208.72,465.19 231.96,472.5" fill="none" stroke="#808080" stroke-width="1"/>
<polyline points="22.8,503.69 46.04,474.81 69.28,470.58 92.52,483.67 115.76,472.5 139,469.42 162.24,477.89 185.48,459.8 208.72,461.72 231.96,476.74" fill="none" stroke="#808080" stroke-width="1"/>
<polyline points="22.8,506 46.04,488.67 69.28,470.58 92.52,484.82 115.76,456.72 139,452.48 162.24,457.88 185.48,438.62 208.72,459.8 231.96,484.05" fill="none" stroke="#808080" stroke-width="1"/>
<polyline points="22.8,498.3 46.04,498.3 69.28,489.44 92.52,495.22 115.76,486.75 139,475.2 162.24,457.88 185.48,454.41 208.72,448.25 231.96,479.05" fill="none" stroke="#808080" stroke-width="1"/>
<polyline points="22.8,492.52 46.04,462.11 69.28,460.57 92.52,488.67 115.76,472.5 139,467.12 162.24,482.9 185.48,462.88 208.72,459.8 231.96,475.2" fill="none" stroke="#808080" stroke-width="1"/>
<polyline points="22.8,491.37 46.04,482.9 69.28,480.97 92.52,486.75 115.76,445.94 139,413.21 162.24,442.47 185.48,459.8 208.72,482.9 231.96,476.74" fill="none" stroke="#000" stroke-width="1"/>
<polyline points="22.8,507.54 46.04,479.05 69.28,501.76 92.52,472.5 115.76,480.97 139,476.74 162.24,479.82 185.48,462.88 208.72,486.36 231.96,489.44" fill="none" stroke="#000" stroke-width="1"/>
<polyline points="22.8,516.39 46.04,508.69 69.28,509.46 92.52,503.69 115.76,493.29 139,485.21 162.24,492.52 185.48,469.42 208.72,482.9 231.96,492.52" fill="none" stroke="#000" stroke-width="1"/>
<polyline points="22.8,498.3 46.04,498.3 69.28,498.3 92.52,501.76 115.76,499.07 139,477.89 162.24,492.52 185.48,475.58 208.72,499.07 231.96,507.54" fill="none" stroke="#000" stroke-width="1"/>
<polyline points="22.8,497.14 46.04,497.14 69.28,481.75 92.52,489.44 115.76,480.97 139,471.35 162.24,484.05 185.48,469.42 208.72,488.29 231.96,484.05" fill="none" stroke="#000" stroke-width="1"/>
<circle cx="22.8" cy="488.67" r="2.88" fill="none" stroke="#555" stroke-width="1.1"/>
<circle cx="46.04" cy="482.9" r="2.88" fill="none" stroke="#555" stroke-width="1.1"/>
<circle cx="69.28" cy="478.28" r="2.88" fill="none" stroke="#555" stroke-width="1.1"/>
<circle cx="92.52" cy="489.44" r="2.88" fill="none" stroke="#555" stroke-width="1.1"/>
<circle cx="115.76" cy="476.35" r="2.88" fill="none" stroke="#555" stroke-width="1.1"/>
<circle cx="139" cy="471.35" r="2.88" fill="none" stroke="#555" stroke-width="1.1"/>
<circle cx="162.24" cy="473.66" r="2.88" fill="none" stroke="#555" stroke-width="1.1"/>
<circle cx="185.48" cy="465.96" r="2.88" fill="none" stroke="#555" stroke-width="1.1"/>
<circle cx="208.72" cy="465.19" r="2.88" fill="none" stroke="#555" stroke-width="1.1"/>
<circle cx="231.96" cy="472.5" r="2.88" fill="none" stroke="#555" stroke-width="1.1"/>
<rect x="20.01" y="500.9" width="5.58" height="5.58" fill="none" stroke="#555" stroke-width="1.1"/>
<rect x="43.25" y="472.02" width="5.58" height="5.58" fill="none" stroke="#555" stroke-width="1.1"/>
<rect x="66.49" y="467.79" width="5.58" height="5.58" fill="none" stroke="#555" stroke-width="1.1"/>
<rect x="89.73" y="480.88" width="5.58" height="5.58" fill="none" stroke="#555" stroke-width="1.1"/>
<rect x="112.97" y="469.71" width="5.58" height="5.58" fill="none" stroke="#555" stroke-width="1.1"/>
<rect x="136.21" y="466.63" width="5.58" height="5.58" fill="none" stroke="#555" stroke-width="1.1"/>
<rect x="159.45" y="475.1" width="5.58" height="5.58" fill="none" stroke="#555" stroke-width="1.1"/>
<rect x="182.69" y="457.01" width="5.58" height="5.58" fill="none" stroke="#555" stroke-width="1.1"/>
<rect x="205.93" y="458.93" width="5.58" height="5.58" fill="none" stroke="#555" stroke-width="1.1"/>
<rect x="229.17" y="473.95" width="5.58" height="5.58" fill="none" stroke="#555" stroke-width="1.1"/>
<polygon points="22.8,502.76 25.88,508.27 19.72,508.27" fill="none" stroke="#555" stroke-width="1.1"/>
<polygon points="46.04,485.43 49.12,490.94 42.96,490.94" fill="none" stroke="#555" stroke-width="1.1"/>
<polygon points="69.28,467.34 72.36,472.85 66.2,472.85" fill="none" stroke="#555" stroke-width="1.1"/>
<polygon points="92.52,481.58 95.6,487.09 89.44,487.09" fill="none" stroke="#555" stroke-width="1.1"/>
<polygon points="115.76,453.48 118.84,458.99 112.68,458.99" fill="none" stroke="#555" stroke-width="1.1"/>
<polygon points="139,449.24 142.08,454.75 135.92,454.75" fill="none" stroke="#555" stroke-width="1.1"/>
<polygon points="162.24,454.63 165.32,460.14 159.16,460.14" fill="none" stroke="#555" stroke-width="1.1"/>
<polygon points="185.48,435.38 188.56,440.89 182.4,440.89" fill="none" stroke="#555" stroke-width="1.1"/>
<polygon points="208.72,456.56 211.8,462.07 205.64,462.07" fill="none" stroke="#555" stroke-width="1.1"/>
<polygon points="231.96,480.81 235.04,486.32 228.88,486.32" fill="none" stroke="#555" stroke-width="1.1"/>
<polygon points="22.8,501.54 25.88,496.03 19.72,496.03" fill="none" stroke="#555" stroke-width="1.1"/>
<polygon points="46.04,501.54 49.12,496.03 42.96,496.03" fill="none" stroke="#555" stroke-width="1.1"/>
<polygon points="69.28,492.69 72.36,487.18 66.2,487.18" fill="none" stroke="#555" stroke-width="1.1"/>
<polygon points="92.52,498.46 95.6,492.95 89.44,492.95" fill="none" stroke="#555" stroke-width="1.1"/>
<polygon points="115.76,489.99 118.84,484.48 112.68,484.48" fill="none" stroke="#555" stroke-width="1.1"/>
<polygon points="139,478.44 142.08,472.93 135.92,472.93" fill="none" stroke="#555" stroke-width="1.1"/>
<polygon points="162.24,461.12 165.32,455.61 159.16,455.61" fill="none" stroke="#555" stroke-width="1.1"/>
<polygon points="185.48,457.65 188.56,452.14 182.4,452.14" fill="none" stroke="#555" stroke-width="1.1"/>
<polygon points="208.72,451.49 211.8,445.98 205.64,445.98" fill="none" stroke="#555" stroke-width="1.1"/>
<polygon points="231.96,482.29 235.04,476.78 228.88,476.78" fill="none" stroke="#555" stroke-width="1.1"/>
<polygon points="22.8,489.1 26.22,492.52 22.8,495.94 19.38,492.52" fill="none" stroke="#555" stroke-width="1.1"/>
<polygon points="46.04,458.69 49.46,462.11 46.04,465.53 42.62,462.11" fill="none" stroke="#555" stroke-width="1.1"/>
<polygon points="69.28,457.15 72.7,460.57 69.28,463.99 65.86,460.57" fill="none" stroke="#555" stroke-width="1.1"/>
<polygon points="92.52,485.25 95.94,488.67 92.52,492.09 89.1,488.67" fill="none" stroke="#555" stroke-width="1.1"/>
<polygon points="115.76,469.08 119.18,472.5 115.76,475.93 112.34,472.5" fill="none" stroke="#555" stroke-width="1.1"/>
<polygon points="139,463.69 142.42,467.12 139,470.54 135.58,467.12" fill="none" stroke="#555" stroke-width="1.1"/>
<polygon points="162.24,479.48 165.66,482.9 162.24,486.32 158.82,482.9" fill="none" stroke="#555" stroke-width="1.1"/>
<polygon points="185.48,459.46 188.9,462.88 185.48,466.3 182.06,462.88" fill="none" stroke="#555" stroke-width="1.1"/>
<polygon points="208.72,456.38 212.14,459.8 208.72,463.22 205.3,459.8" fill="none" stroke="#555" stroke-width="1.1"/>
<polygon points="231.96,471.78 235.38,475.2 231.96,478.62 228.54,475.2" fill="none" stroke="#555" stroke-width="1.1"/>
<circle cx="22.8" cy="491.37" r="2.79" fill="#000" stroke="#000" stroke-width="0"/>
<circle cx="46.04" cy="482.9" r="2.79" fill="#000" stroke="#000" stroke-width="0"/>
<circle cx="69.28" cy="480.97" r="2.79" fill="#000" stroke="#000" stroke-width="0"/>
<circle cx="92.52" cy="486.75" r="2.79" fill="#000" stroke="#000" stroke-width="0"/>
<circle cx="115.76" cy="445.94" r="2.79" fill="#000" stroke="#000" stroke-width="0"/>
<circle cx="139" cy="413.21" r="2.79" fill="#000" stroke="#000" stroke-width="0"/>
<circle cx="162.24" cy="442.47" r="2.79" fill="#000" stroke="#000" stroke-width="0"/>
<circle cx="185.48" cy="459.8" r="2.79" fill="#000" stroke="#000" stroke-width="0"/>
<circle cx="208.72" cy="482.9" r="2.79" fill="#000" stroke="#000" stroke-width="0"/>
<circle cx="231.96" cy="476.74" r="2.79" fill="#000" stroke="#000" stroke-width="0"/>
<rect x="19.92" y="504.66" width="5.76" height="5.76" fill="#000" stroke="#000" stroke-width="0"/>
<rect x="43.16" y="476.17" width="5.76" height="5.76" fill="#000" stroke="#000" stroke-width="0"/>
<rect x="66.4" y="498.88" width="5.76" height="5.76" fill="#000" stroke="#000" stroke-width="0"/>
<rect x="89.64" y="469.62" width="5.76" height="5.76" fill="#000" stroke="#000" stroke-width="0"/>
<rect x="112.88" y="478.09" width="5.76" height="5.76" fill="#000" stroke="#000" stroke-width="0"/>
<rect x="136.12" y="473.86" width="5.76" height="5.76" fill="#000" stroke="#000" stroke-width="0"/>
<rect x="159.36" y="476.94" width="5.76" height="5.76" fill="#000" stroke="#000" stroke-width="0"/>
<rect x="182.6" y="460" width="5.76" height="5.76" fill="#000" stroke="#000" stroke-width="0"/>
<rect x="205.84" y="483.48" width="5.76" height="5.76" fill="#000" stroke="#000" stroke-width="0"/>
<rect x="229.08" y="486.56" width="5.76" height="5.76" fill="#000" stroke="#000" stroke-width="0"/>
<polygon points="22.8,513.15 25.88,518.66 19.72,518.66" fill="#000" stroke="#000" stroke-width="0.3"/>
<polygon points="46.04,505.45 49.12,510.96 42.96,510.96" fill="#000" stroke="#000" stroke-width="0.3"/>
<polygon points="69.28,506.22 72.36,511.73 66.2,511.73" fill="#000" stroke="#000" stroke-width="0.3"/>
<polygon points="92.52,500.45 95.6,505.96 89.44,505.96" fill="#000" stroke="#000" stroke-width="0.3"/>
<polygon points="115.76,490.05 118.84,495.56 112.68,495.56" fill="#000" stroke="#000" stroke-width="0.3"/>
<polygon points="139,481.97 142.08,487.48 135.92,487.48" fill="#000" stroke="#000" stroke-width="0.3"/>
<polygon points="162.24,489.28 165.32,494.79 159.16,494.79" fill="#000" stroke="#000" stroke-width="0.3"/>
<polygon points="185.48,466.18 188.56,471.69 182.4,471.69" fill="#000" stroke="#000" stroke-width="0.3"/>
<polygon points="208.72,479.66 211.8,485.17 205.64,485.17" fill="#000" stroke="#000" stroke-width="0.3"/>
<polygon points="231.96,489.28 235.04,494.79 228.88,494.79" fill="#000" stroke="#000" stroke-width="0.3"/>
<polygon points="22.8,501.54 25.88,496.03 19.72,496.03" fill="#000" stroke="#000" stroke-width="0.3"/>
<polygon points="46.04,501.54 49.12,496.03 42.96,496.03" fill="#000" stroke="#000" stroke-width="0.3"/>
<polygon points="69.28,501.54 72.36,496.03 66.2,496.03" fill="#000" stroke="#000" stroke-width="0.3"/>
<polygon points="92.52,505 95.6,499.5 89.44,499.5" fill="#000" stroke="#000" stroke-width="0.3"/>
<polygon points="115.76,502.31 118.84,496.8 112.68,496.8" fill="#000" stroke="#000" stroke-width="0.3"/>
<polygon points="139,481.13 142.08,475.63 135.92,475.63" fill="#000" stroke="#000" stroke-width="0.3"/>
<polygon points="162.24,495.76 165.32,490.26 159.16,490.26" fill="#000" stroke="#000" stroke-width="0.3"/>
<polygon points="185.48,478.82 188.56,473.32 182.4,473.32" fill="#000" stroke="#000" stroke-width="0.3"/>
<polygon points="208.72,502.31 211.8,496.8 205.64,496.8" fill="#000" stroke="#000" stroke-width="0.3"/>
<polygon points="231.96,510.78 235.04,505.27 228.88,505.27" fill="#000" stroke="#000" stroke-width="0.3"/>
<polygon points="22.8,493.72 26.22,497.14 22.8,500.56 19.38,497.14" fill="#000" stroke="#000" stroke-width="0.3"/>
<polygon points="46.04,493.72 49.46,497.14 46.04,500.56 42.62,497.14" fill="#000" stroke="#000" stroke-width="0.3"/>
<polygon points="69.28,478.32 72.7,481.75 69.28,485.17 65.86,481.75" fill="#000" stroke="#000" stroke-width="0.3"/>
<polygon points="92.52,486.02 95.94,489.44 92.52,492.87 89.1,489.44" fill="#000" stroke="#000" stroke-width="0.3"/>
<polygon points="115.76,477.55 119.18,480.97 115.76,484.39 112.34,480.97" fill="#000" stroke="#000" stroke-width="0.3"/>
<polygon points="139,467.93 142.42,471.35 139,474.77 135.58,471.35" fill="#000" stroke="#000" stroke-width="0.3"/>
<polygon points="162.24,480.63 165.66,484.05 162.24,487.47 158.82,484.05" fill="#000" stroke="#000" stroke-width="0.3"/>
<polygon points="185.48,466 188.9,469.42 185.48,472.84 182.06,469.42" fill="#000" stroke="#000" stroke-width="0.3"/>
<polygon points="208.72,484.87 212.14,488.29 208.72,491.71 205.3,488.29" fill="#000" stroke="#000" stroke-width="0.3"/>
<polygon points="231.96,480.63 235.38,484.05 231.96,487.47 228.54,484.05" fill="#000" stroke="#000" stroke-width="0.3"/>
<text x="99.9" y="331.4" font-family="'Liberation Serif', serif" font-weight="bold" font-size="11.85">Group C</text>
<text x="0.6" y="346.4" font-family="'Liberation Sans', sans-serif" font-weight="bold" font-size="17" letter-spacing="-1.6">(C)</text>
<path d="M252.2 326H266" stroke="#000" stroke-width="1.3"/>
<circle cx="258.9" cy="326" r="2.85" fill="#000" stroke="#000" stroke-width="0"/>
<text x="272.7" y="329.9" font-family="'Liberation Serif', serif" font-size="10.6">GNMT</text>
<path d="M252.2 343.78H266" stroke="#000" stroke-width="1.3"/>
<rect x="255.96" y="340.84" width="5.89" height="5.89" fill="#000" stroke="#000" stroke-width="0"/>
<text x="272.7" y="347.68" font-family="'Liberation Serif', serif" font-size="10.6">MMADHC</text>
<path d="M252.2 361.56H266" stroke="#000" stroke-width="1.3"/>
<polygon points="258.9,358.25 262.05,363.88 255.75,363.88" fill="#000" stroke="#000" stroke-width="0.3"/>
<text x="272.7" y="365.46" font-family="'Liberation Serif', serif" font-size="10.6">CHKA</text>
<path d="M252.2 379.34H266" stroke="#000" stroke-width="1.3"/>
<polygon points="258.9,382.65 262.05,377.02 255.75,377.02" fill="#000" stroke="#000" stroke-width="0.3"/>
<text x="272.7" y="383.24" font-family="'Liberation Serif', serif" font-size="10.6">CHKB</text>
<path d="M252.2 397.12H266" stroke="#000" stroke-width="1.3"/>
<polygon points="258.9,393.62 262.4,397.12 258.9,400.62 255.4,397.12" fill="#000" stroke="#000" stroke-width="0.3"/>
<text x="272.7" y="401.02" font-family="'Liberation Serif', serif" font-size="10.6">MTRR</text>
<path d="M252.2 414.9H266" stroke="#000" stroke-width="1.3"/>
<circle cx="258.9" cy="414.9" r="2.88" fill="none" stroke="#000" stroke-width="1"/>
<text x="272.7" y="418.8" font-family="'Liberation Serif', serif" font-size="10.6">MMACHC</text>
<path d="M252.2 432.68H266" stroke="#000" stroke-width="1.3"/>
<rect x="256.11" y="429.89" width="5.58" height="5.58" fill="none" stroke="#000" stroke-width="1"/>
<text x="272.7" y="436.58" font-family="'Liberation Serif', serif" font-size="10.6">MTR</text>
<path d="M252.2 450.46H266" stroke="#000" stroke-width="1.3"/>
<polygon points="258.9,447.22 261.98,452.73 255.82,452.73" fill="none" stroke="#000" stroke-width="1"/>
<text x="272.7" y="454.36" font-family="'Liberation Serif', serif" font-size="10.6">PCYT1A</text>
<path d="M252.2 468.24H266" stroke="#000" stroke-width="1.3"/>
<polygon points="258.9,471.48 261.98,465.97 255.82,465.97" fill="none" stroke="#000" stroke-width="1"/>
<text x="272.7" y="472.14" font-family="'Liberation Serif', serif" font-size="10.6">PEMT</text>
<path d="M252.2 486.02H266" stroke="#000" stroke-width="1.3"/>
<polygon points="258.9,482.6 262.32,486.02 258.9,489.44 255.48,486.02" fill="none" stroke="#000" stroke-width="1"/>
<text x="272.7" y="489.92" font-family="'Liberation Serif', serif" font-size="10.6">MTHFR</text>
<path d="M383.2 344.8V515.6H641.4" stroke="#000" stroke-width="2" fill="none"/>
<path d="M379.6 515.6H383.2" stroke="#000" stroke-width="1.6"/>
<text x="378.9" y="518.3" text-anchor="end" font-family="'Liberation Sans', sans-serif" font-weight="bold" font-size="8.6" letter-spacing="0.35">0.0</text>
<path d="M379.6 473.1H383.2" stroke="#000" stroke-width="1.6"/>
<text x="378.9" y="475.8" text-anchor="end" font-family="'Liberation Sans', sans-serif" font-weight="bold" font-size="8.6" letter-spacing="0.35">0.5</text>
<path d="M379.6 430.6H383.2" stroke="#000" stroke-width="1.6"/>
<text x="378.9" y="433.3" text-anchor="end" font-family="'Liberation Sans', sans-serif" font-weight="bold" font-size="8.6" letter-spacing="0.35">1.0</text>
<path d="M379.6 388.1H383.2" stroke="#000" stroke-width="1.6"/>
<text x="378.9" y="390.8" text-anchor="end" font-family="'Liberation Sans', sans-serif" font-weight="bold" font-size="8.6" letter-spacing="0.35">1.5</text>
<path d="M379.6 345.6H383.2" stroke="#000" stroke-width="1.6"/>
<text x="378.9" y="348.3" text-anchor="end" font-family="'Liberation Sans', sans-serif" font-weight="bold" font-size="8.6" letter-spacing="0.35">2.0</text>
<path d="M396.2 515.6V520" stroke="#000" stroke-width="1.5"/>
<text x="397.2" y="528.8" text-anchor="end" transform="rotate(-45 397.2 528.8)" font-family="'Liberation Sans', sans-serif" font-weight="bold" font-size="9.6">E9</text>
<path d="M421.93 515.6V520" stroke="#000" stroke-width="1.5"/>
<text x="422.93" y="528.8" text-anchor="end" transform="rotate(-45 422.93 528.8)" font-family="'Liberation Sans', sans-serif" font-weight="bold" font-size="9.6">E11</text>
<path d="M447.66 515.6V520" stroke="#000" stroke-width="1.5"/>
<text x="448.66" y="528.8" text-anchor="end" transform="rotate(-45 448.66 528.8)" font-family="'Liberation Sans', sans-serif" font-weight="bold" font-size="9.6">E13</text>
<path d="M473.39 515.6V520" stroke="#000" stroke-width="1.5"/>
<text x="474.39" y="528.8" text-anchor="end" transform="rotate(-45 474.39 528.8)" font-family="'Liberation Sans', sans-serif" font-weight="bold" font-size="9.6">E15</text>
<path d="M499.12 515.6V520" stroke="#000" stroke-width="1.5"/>
<text x="500.12" y="528.8" text-anchor="end" transform="rotate(-45 500.12 528.8)" font-family="'Liberation Sans', sans-serif" font-weight="bold" font-size="9.6">E17</text>
<path d="M524.85 515.6V520" stroke="#000" stroke-width="1.5"/>
<text x="525.85" y="528.8" text-anchor="end" transform="rotate(-45 525.85 528.8)" font-family="'Liberation Sans', sans-serif" font-weight="bold" font-size="9.6">P0</text>
<path d="M550.58 515.6V520" stroke="#000" stroke-width="1.5"/>
<text x="551.58" y="528.8" text-anchor="end" transform="rotate(-45 551.58 528.8)" font-family="'Liberation Sans', sans-serif" font-weight="bold" font-size="9.6">P3</text>
<path d="M576.31 515.6V520" stroke="#000" stroke-width="1.5"/>
<text x="577.31" y="528.8" text-anchor="end" transform="rotate(-45 577.31 528.8)" font-family="'Liberation Sans', sans-serif" font-weight="bold" font-size="9.6">P5</text>
<path d="M602.04 515.6V520" stroke="#000" stroke-width="1.5"/>
<text x="603.04" y="528.8" text-anchor="end" transform="rotate(-45 603.04 528.8)" font-family="'Liberation Sans', sans-serif" font-weight="bold" font-size="9.6">P10</text>
<path d="M627.77 515.6V520" stroke="#000" stroke-width="1.5"/>
<text x="628.77" y="528.8" text-anchor="end" transform="rotate(-45 628.77 528.8)" font-family="'Liberation Sans', sans-serif" font-weight="bold" font-size="9.6">P15</text>
<path d="M396.2 439.1V485M392.5 439.1H399.9M392.5 485H399.9" stroke="#000" stroke-width="1.5" fill="none"/>
<path d="M421.93 400V462.9M418.23 400H425.63M418.23 462.9H425.63" stroke="#000" stroke-width="1.5" fill="none"/>
<path d="M447.66 445.9V512.2M443.96 445.9H451.36M443.96 512.2H451.36" stroke="#000" stroke-width="1.5" fill="none"/>
<path d="M473.39 372.8V413.6M469.69 372.8H477.09M469.69 413.6H477.09" stroke="#000" stroke-width="1.5" fill="none"/>
<path d="M499.12 434.85V451.85M495.42 434.85H502.82M495.42 451.85H502.82" stroke="#000" stroke-width="1.5" fill="none"/>
<path d="M524.85 438.25V479.05M521.15 438.25H528.55M521.15 479.05H528.55" stroke="#000" stroke-width="1.5" fill="none"/>
<path d="M550.58 439.95V458.65M546.88 439.95H554.28M546.88 458.65H554.28" stroke="#000" stroke-width="1.5" fill="none"/>
<path d="M576.31 436.55V484.15M572.61 436.55H580.01M572.61 484.15H580.01" stroke="#000" stroke-width="1.5" fill="none"/>
<path d="M602.04 466.3V490.1M598.34 466.3H605.74M598.34 490.1H605.74" stroke="#000" stroke-width="1.5" fill="none"/>
<path d="M627.77 435.7V459.5M624.07 435.7H631.47M624.07 459.5H631.47" stroke="#000" stroke-width="1.5" fill="none"/>
<path d="M396.2 397.45V463.75M392.5 397.45H399.9M392.5 463.75H399.9" stroke="#000" stroke-width="1.5" fill="none"/>
<path d="M421.93 385.55V462.05M418.23 385.55H425.63M418.23 462.05H425.63" stroke="#000" stroke-width="1.5" fill="none"/>
<path d="M447.66 443.35V472.25M443.96 443.35H451.36M443.96 472.25H451.36" stroke="#000" stroke-width="1.5" fill="none"/>
<path d="M473.39 394.9V462.9M469.69 394.9H477.09M469.69 462.9H477.09" stroke="#000" stroke-width="1.5" fill="none"/>
<path d="M499.12 411.05V467.15M495.42 411.05H502.82M495.42 467.15H502.82" stroke="#000" stroke-width="1.5" fill="none"/>
<path d="M524.85 395.75V458.65M521.15 395.75H528.55M521.15 458.65H528.55" stroke="#000" stroke-width="1.5" fill="none"/>
<path d="M550.58 419.55V433.15M546.88 419.55H554.28M546.88 433.15H554.28" stroke="#000" stroke-width="1.5" fill="none"/>
<path d="M576.31 434V468M572.61 434H580.01M572.61 468H580.01" stroke="#000" stroke-width="1.5" fill="none"/>
<path d="M602.04 431.45V453.55M598.34 431.45H605.74M598.34 453.55H605.74" stroke="#000" stroke-width="1.5" fill="none"/>
<polyline points="396.2,462.05 421.93,431.45 447.66,479.05 473.39,393.2 499.12,443.35 524.85,458.65 550.58,449.3 576.31,460.35 602.04,478.2 627.77,447.6" fill="none" stroke="#000" stroke-width="1.3"/>
<polyline points="396.2,430.6 421.93,423.8 447.66,457.8 473.39,428.9 499.12,439.1 524.85,427.2 550.58,426.35 576.31,451 602.04,442.5 627.77,428.9" fill="none" stroke="#000" stroke-width="1.3"/>
<circle cx="396.2" cy="462.05" r="3.1" fill="#000" stroke="#000" stroke-width="0"/>
<circle cx="421.93" cy="431.45" r="3.1" fill="#000" stroke="#000" stroke-width="0"/>
<circle cx="447.66" cy="479.05" r="3.1" fill="#000" stroke="#000" stroke-width="0"/>
<circle cx="473.39" cy="393.2" r="3.1" fill="#000" stroke="#000" stroke-width="0"/>
<circle cx="499.12" cy="443.35" r="3.1" fill="#000" stroke="#000" stroke-width="0"/>
<circle cx="524.85" cy="458.65" r="3.1" fill="#000" stroke="#000" stroke-width="0"/>
<circle cx="550.58" cy="449.3" r="3.1" fill="#000" stroke="#000" stroke-width="0"/>
<circle cx="576.31" cy="460.35" r="3.1" fill="#000" stroke="#000" stroke-width="0"/>
<circle cx="602.04" cy="478.2" r="3.1" fill="#000" stroke="#000" stroke-width="0"/>
<circle cx="627.77" cy="447.6" r="3.1" fill="#000" stroke="#000" stroke-width="0"/>
<rect x="393" y="427.4" width="6.4" height="6.4" fill="#000" stroke="#000" stroke-width="0"/>
<rect x="418.73" y="420.6" width="6.4" height="6.4" fill="#000" stroke="#000" stroke-width="0"/>
<rect x="444.46" y="454.6" width="6.4" height="6.4" fill="#000" stroke="#000" stroke-width="0"/>
<rect x="470.19" y="425.7" width="6.4" height="6.4" fill="#000" stroke="#000" stroke-width="0"/>
<rect x="495.92" y="435.9" width="6.4" height="6.4" fill="#000" stroke="#000" stroke-width="0"/>
<rect x="521.65" y="424" width="6.4" height="6.4" fill="#000" stroke="#000" stroke-width="0"/>
<rect x="547.38" y="423.15" width="6.4" height="6.4" fill="#000" stroke="#000" stroke-width="0"/>
<rect x="573.11" y="447.8" width="6.4" height="6.4" fill="#000" stroke="#000" stroke-width="0"/>
<rect x="598.84" y="439.3" width="6.4" height="6.4" fill="#000" stroke="#000" stroke-width="0"/>
<rect x="624.57" y="425.7" width="6.4" height="6.4" fill="#000" stroke="#000" stroke-width="0"/>
<text x="477.8" y="307.7" font-family="'Liberation Serif', serif" font-weight="bold" font-size="13.1">Group D</text>
<text x="372.6" y="319.4" font-family="'Liberation Sans', sans-serif" font-weight="bold" font-size="18.6" letter-spacing="-1.35">(D)</text>
<path d="M610.1 283.4H625.1" stroke="#000" stroke-width="1.3"/>
<circle cx="617.8" cy="283.4" r="2.85" fill="#000" stroke="#000" stroke-width="0"/>
<text x="632.6" y="287.8" font-family="'Liberation Serif', serif" font-size="12">BHMT</text>
<path d="M610.1 302.9H625.1" stroke="#000" stroke-width="1.3"/>
<rect x="614.86" y="299.96" width="5.89" height="5.89" fill="#000" stroke="#000" stroke-width="0"/>
<text x="632.6" y="307.3" font-family="'Liberation Serif', serif" font-size="12">SAHH</text>
<path d="M18.2 664V826.6H264.2" stroke="#000" stroke-width="2" fill="none"/>
<path d="M14.6 826.6H18.2" stroke="#000" stroke-width="1.6"/>
<text x="13.9" y="829.3" text-anchor="end" font-family="'Liberation Sans', sans-serif" font-weight="bold" font-size="8.6" letter-spacing="0.35">0.0</text>
<path d="M14.6 794.1H18.2" stroke="#000" stroke-width="1.6"/>
<text x="13.9" y="796.8" text-anchor="end" font-family="'Liberation Sans', sans-serif" font-weight="bold" font-size="8.6" letter-spacing="0.35">0.5</text>
<path d="M14.6 761.6H18.2" stroke="#000" stroke-width="1.6"/>
<text x="13.9" y="764.3" text-anchor="end" font-family="'Liberation Sans', sans-serif" font-weight="bold" font-size="8.6" letter-spacing="0.35">1.0</text>
<path d="M14.6 729.1H18.2" stroke="#000" stroke-width="1.6"/>
<text x="13.9" y="731.8" text-anchor="end" font-family="'Liberation Sans', sans-serif" font-weight="bold" font-size="8.6" letter-spacing="0.35">1.5</text>
<path d="M14.6 696.6H18.2" stroke="#000" stroke-width="1.6"/>
<text x="13.9" y="699.3" text-anchor="end" font-family="'Liberation Sans', sans-serif" font-weight="bold" font-size="8.6" letter-spacing="0.35">2.0</text>
<path d="M14.6 664.1H18.2" stroke="#000" stroke-width="1.6"/>
<text x="13.9" y="666.8" text-anchor="end" font-family="'Liberation Sans', sans-serif" font-weight="bold" font-size="8.6" letter-spacing="0.35">2.5</text>
<path d="M30.7 826.6V831" stroke="#000" stroke-width="1.5"/>
<text x="31.7" y="838.2" text-anchor="end" transform="rotate(-45 31.7 838.2)" font-family="'Liberation Sans', sans-serif" font-weight="bold" font-size="9.2">E9</text>
<path d="M55.21 826.6V831" stroke="#000" stroke-width="1.5"/>
<text x="56.21" y="838.2" text-anchor="end" transform="rotate(-45 56.21 838.2)" font-family="'Liberation Sans', sans-serif" font-weight="bold" font-size="9.2">E11</text>
<path d="M79.72 826.6V831" stroke="#000" stroke-width="1.5"/>
<text x="80.72" y="838.2" text-anchor="end" transform="rotate(-45 80.72 838.2)" font-family="'Liberation Sans', sans-serif" font-weight="bold" font-size="9.2">E13</text>
<path d="M104.23 826.6V831" stroke="#000" stroke-width="1.5"/>
<text x="105.23" y="838.2" text-anchor="end" transform="rotate(-45 105.23 838.2)" font-family="'Liberation Sans', sans-serif" font-weight="bold" font-size="9.2">E15</text>
<path d="M128.74 826.6V831" stroke="#000" stroke-width="1.5"/>
<text x="129.74" y="838.2" text-anchor="end" transform="rotate(-45 129.74 838.2)" font-family="'Liberation Sans', sans-serif" font-weight="bold" font-size="9.2">E17</text>
<path d="M153.25 826.6V831" stroke="#000" stroke-width="1.5"/>
<text x="154.25" y="838.2" text-anchor="end" transform="rotate(-45 154.25 838.2)" font-family="'Liberation Sans', sans-serif" font-weight="bold" font-size="9.2">P0</text>
<path d="M177.76 826.6V831" stroke="#000" stroke-width="1.5"/>
<text x="178.76" y="838.2" text-anchor="end" transform="rotate(-45 178.76 838.2)" font-family="'Liberation Sans', sans-serif" font-weight="bold" font-size="9.2">P3</text>
<path d="M202.27 826.6V831" stroke="#000" stroke-width="1.5"/>
<text x="203.27" y="838.2" text-anchor="end" transform="rotate(-45 203.27 838.2)" font-family="'Liberation Sans', sans-serif" font-weight="bold" font-size="9.2">P5</text>
<path d="M226.78 826.6V831" stroke="#000" stroke-width="1.5"/>
<text x="227.78" y="838.2" text-anchor="end" transform="rotate(-45 227.78 838.2)" font-family="'Liberation Sans', sans-serif" font-weight="bold" font-size="9.2">P10</text>
<path d="M251.29 826.6V831" stroke="#000" stroke-width="1.5"/>
<text x="252.29" y="838.2" text-anchor="end" transform="rotate(-45 252.29 838.2)" font-family="'Liberation Sans', sans-serif" font-weight="bold" font-size="9.2">P15</text>
<path d="M30.7 767.45V773.95M27 767.45H34.4M27 773.95H34.4" stroke="#000" stroke-width="1.5" fill="none"/>
<path d="M55.21 717.4V775.9M51.51 717.4H58.91M51.51 775.9H58.91" stroke="#000" stroke-width="1.5" fill="none"/>
<path d="M79.72 742.75V749.25M76.02 742.75H83.42M76.02 749.25H83.42" stroke="#000" stroke-width="1.5" fill="none"/>
<path d="M104.23 757.7V764.2M100.53 757.7H107.93M100.53 764.2H107.93" stroke="#000" stroke-width="1.5" fill="none"/>
<path d="M128.74 762.9V782.4M125.04 762.9H132.44M125.04 782.4H132.44" stroke="#000" stroke-width="1.5" fill="none"/>
<path d="M153.25 744.7V770.7M149.55 744.7H156.95M149.55 770.7H156.95" stroke="#000" stroke-width="1.5" fill="none"/>
<path d="M177.76 742.75V760.95M174.06 742.75H181.46M174.06 760.95H181.46" stroke="#000" stroke-width="1.5" fill="none"/>
<path d="M202.27 727.8V744.7M198.57 727.8H205.97M198.57 744.7H205.97" stroke="#000" stroke-width="1.5" fill="none"/>
<path d="M251.29 809.7V817.5M247.59 809.7H254.99M247.59 817.5H254.99" stroke="#000" stroke-width="1.5" fill="none"/>
<path d="M30.7 694V746M27 694H34.4M27 746H34.4" stroke="#000" stroke-width="1.5" fill="none"/>
<path d="M55.21 707.65V755.75M51.51 707.65H58.91M51.51 755.75H58.91" stroke="#000" stroke-width="1.5" fill="none"/>
<path d="M79.72 743.4V753.8M76.02 743.4H83.42M76.02 753.8H83.42" stroke="#000" stroke-width="1.5" fill="none"/>
<path d="M104.23 760.3V768.1M100.53 760.3H107.93M100.53 768.1H107.93" stroke="#000" stroke-width="1.5" fill="none"/>
<path d="M153.25 772.65V792.15M149.55 772.65H156.95M149.55 792.15H156.95" stroke="#000" stroke-width="1.5" fill="none"/>
<path d="M177.76 791.5V807.1M174.06 791.5H181.46M174.06 807.1H181.46" stroke="#000" stroke-width="1.5" fill="none"/>
<path d="M202.27 792.8V798M198.57 792.8H205.97M198.57 798H205.97" stroke="#000" stroke-width="1.5" fill="none"/>
<path d="M251.29 817.5V821.4M247.59 817.5H254.99M247.59 821.4H254.99" stroke="#000" stroke-width="1.5" fill="none"/>
<path d="M30.7 691.4V717.4M27 691.4H34.4M27 717.4H34.4" stroke="#000" stroke-width="1.5" fill="none"/>
<path d="M55.21 725.2V768.1M51.51 725.2H58.91M51.51 768.1H58.91" stroke="#000" stroke-width="1.5" fill="none"/>
<path d="M79.72 720.65V746.65M76.02 720.65H83.42M76.02 746.65H83.42" stroke="#000" stroke-width="1.5" fill="none"/>
<path d="M104.23 751.85V764.85M100.53 751.85H107.93M100.53 764.85H107.93" stroke="#000" stroke-width="1.5" fill="none"/>
<path d="M128.74 756.4V762.9M125.04 756.4H132.44M125.04 762.9H132.44" stroke="#000" stroke-width="1.5" fill="none"/>
<path d="M153.25 753.15V762.25M149.55 753.15H156.95M149.55 762.25H156.95" stroke="#000" stroke-width="1.5" fill="none"/>
<path d="M177.76 743.4V779.8M174.06 743.4H181.46M174.06 779.8H181.46" stroke="#000" stroke-width="1.5" fill="none"/>
<path d="M226.78 753.15V763.55M223.08 753.15H230.48M223.08 763.55H230.48" stroke="#000" stroke-width="1.5" fill="none"/>
<path d="M251.29 762.25V789.55M247.59 762.25H254.99M247.59 789.55H254.99" stroke="#000" stroke-width="1.5" fill="none"/>
<polyline points="30.7,770.7 55.21,746.65 79.72,746 104.23,760.95 128.74,772.65 153.25,757.7 177.76,751.85 202.27,736.25 226.78,807.1 251.29,813.6" fill="none" stroke="#000" stroke-width="1.3"/>
<polyline points="30.7,720 55.21,731.7 79.72,748.6 104.23,764.2 128.74,787.6 153.25,782.4 177.76,799.3 202.27,795.4 226.78,812.95 251.29,819.45" fill="none" stroke="#000" stroke-width="1.3"/>
<polyline points="30.7,704.4 55.21,746.65 79.72,733.65 104.23,758.35 128.74,759.65 153.25,757.7 177.76,761.6 202.27,751.2 226.78,758.35 251.29,775.9" fill="none" stroke="#000" stroke-width="1.3"/>
<circle cx="30.7" cy="770.7" r="3.1" fill="#000" stroke="#000" stroke-width="0"/>
<circle cx="55.21" cy="746.65" r="3.1" fill="#000" stroke="#000" stroke-width="0"/>
<circle cx="79.72" cy="746" r="3.1" fill="#000" stroke="#000" stroke-width="0"/>
<circle cx="104.23" cy="760.95" r="3.1" fill="#000" stroke="#000" stroke-width="0"/>
<circle cx="128.74" cy="772.65" r="3.1" fill="#000" stroke="#000" stroke-width="0"/>
<circle cx="153.25" cy="757.7" r="3.1" fill="#000" stroke="#000" stroke-width="0"/>
<circle cx="177.76" cy="751.85" r="3.1" fill="#000" stroke="#000" stroke-width="0"/>
<circle cx="202.27" cy="736.25" r="3.1" fill="#000" stroke="#000" stroke-width="0"/>
<circle cx="226.78" cy="807.1" r="3.1" fill="#000" stroke="#000" stroke-width="0"/>
<circle cx="251.29" cy="813.6" r="3.1" fill="#000" stroke="#000" stroke-width="0"/>
<rect x="27.5" y="716.8" width="6.4" height="6.4" fill="#000" stroke="#000" stroke-width="0"/>
<rect x="52.01" y="728.5" width="6.4" height="6.4" fill="#000" stroke="#000" stroke-width="0"/>
<rect x="76.52" y="745.4" width="6.4" height="6.4" fill="#000" stroke="#000" stroke-width="0"/>
<rect x="101.03" y="761" width="6.4" height="6.4" fill="#000" stroke="#000" stroke-width="0"/>
<rect x="125.54" y="784.4" width="6.4" height="6.4" fill="#000" stroke="#000" stroke-width="0"/>
<rect x="150.05" y="779.2" width="6.4" height="6.4" fill="#000" stroke="#000" stroke-width="0"/>
<rect x="174.56" y="796.1" width="6.4" height="6.4" fill="#000" stroke="#000" stroke-width="0"/>
<rect x="199.07" y="792.2" width="6.4" height="6.4" fill="#000" stroke="#000" stroke-width="0"/>
<rect x="223.58" y="809.75" width="6.4" height="6.4" fill="#000" stroke="#000" stroke-width="0"/>
<rect x="248.09" y="816.25" width="6.4" height="6.4" fill="#000" stroke="#000" stroke-width="0"/>
<polygon points="30.7,700.8 34.12,706.92 27.28,706.92" fill="#000" stroke="#000" stroke-width="0.3"/>
<polygon points="55.21,743.05 58.63,749.17 51.79,749.17" fill="#000" stroke="#000" stroke-width="0.3"/>
<polygon points="79.72,730.05 83.14,736.17 76.3,736.17" fill="#000" stroke="#000" stroke-width="0.3"/>
<polygon points="104.23,754.75 107.65,760.87 100.81,760.87" fill="#000" stroke="#000" stroke-width="0.3"/>
<polygon points="128.74,756.05 132.16,762.17 125.32,762.17" fill="#000" stroke="#000" stroke-width="0.3"/>
<polygon points="153.25,754.1 156.67,760.22 149.83,760.22" fill="#000" stroke="#000" stroke-width="0.3"/>
<polygon points="177.76,758 181.18,764.12 174.34,764.12" fill="#000" stroke="#000" stroke-width="0.3"/>
<polygon points="202.27,747.6 205.69,753.72 198.85,753.72" fill="#000" stroke="#000" stroke-width="0.3"/>
<polygon points="226.78,754.75 230.2,760.87 223.36,760.87" fill="#000" stroke="#000" stroke-width="0.3"/>
<polygon points="251.29,772.3 254.71,778.42 247.87,778.42" fill="#000" stroke="#000" stroke-width="0.3"/>
<text x="108.7" y="628.5" font-family="'Liberation Serif', serif" font-weight="bold" font-size="12.6">Group E</text>
<text x="7.8" y="640.3" font-family="'Liberation Sans', sans-serif" font-weight="bold" font-size="17.4" letter-spacing="-0.95">(E)</text>
<path d="M238.1 605.4H252.3" stroke="#000" stroke-width="1.3"/>
<circle cx="245.4" cy="605.4" r="2.94" fill="#000" stroke="#000" stroke-width="0"/>
<text x="259.5" y="609.1" font-family="'Liberation Serif', serif" font-size="11.15">MTHFD2</text>
<path d="M238.1 624.2H252.3" stroke="#000" stroke-width="1.3"/>
<rect x="242.36" y="621.16" width="6.08" height="6.08" fill="#000" stroke="#000" stroke-width="0"/>
<text x="259.5" y="627.9" font-family="'Liberation Serif', serif" font-size="11.15">SHMT1</text>
<path d="M238.1 642.6H252.3" stroke="#000" stroke-width="1.3"/>
<polygon points="245.4,639.18 248.65,644.99 242.15,644.99" fill="#000" stroke="#000" stroke-width="0.3"/>
<text x="259.5" y="646.3" font-family="'Liberation Serif', serif" font-size="11.15">SHMT2</text>
</svg>
</body></html>
